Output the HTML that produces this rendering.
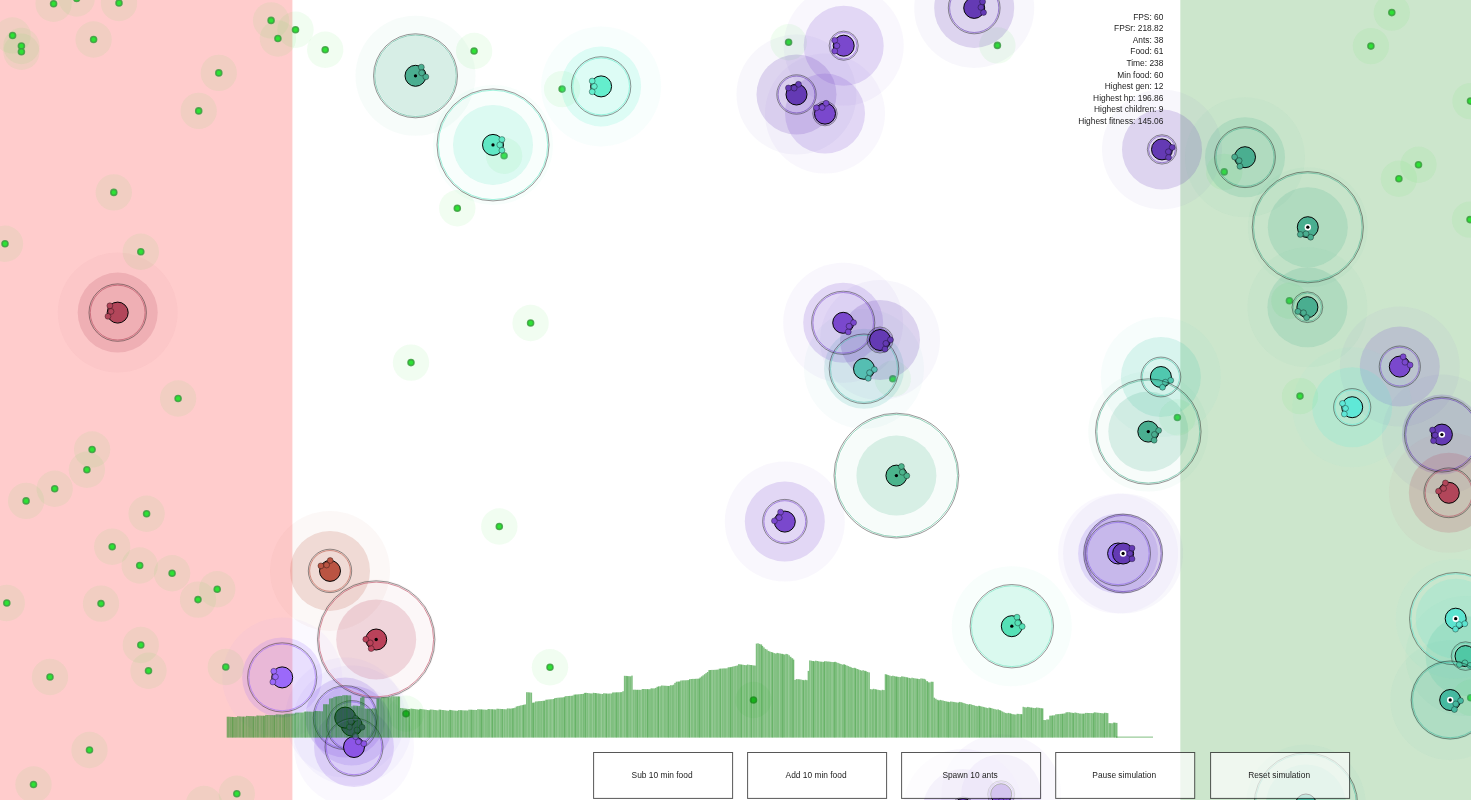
<!DOCTYPE html>
<html><head><meta charset="utf-8"><title>Ants</title>
<style>
html,body{margin:0;padding:0;background:#fff;overflow:hidden}
body{width:1471px;height:800px;position:relative;font-family:"Liberation Sans",sans-serif}
.t{font-family:"Liberation Sans",sans-serif;font-size:8.4px;fill:#1c1c1c}
.b{font-size:8.38px}
</style></head><body>
<svg width="1471" height="800" viewBox="0 0 1471 800" style="position:absolute;left:0;top:0;will-change:transform">
<rect x="0" y="0" width="292.4" height="800" fill="rgba(255,0,0,0.2)"/>
<rect x="1180.3" y="0" width="291" height="800" fill="rgba(0,128,0,0.2)"/>
<circle cx="53.6" cy="3.8" r="18.2" fill="rgba(50,230,50,0.07)"/>
<circle cx="76.7" cy="-1.5" r="18.2" fill="rgba(50,230,50,0.07)"/>
<circle cx="119.0" cy="3.0" r="18.2" fill="rgba(50,230,50,0.07)"/>
<circle cx="12.6" cy="35.5" r="18.2" fill="rgba(50,230,50,0.07)"/>
<circle cx="21.4" cy="46.0" r="18.2" fill="rgba(50,230,50,0.07)"/>
<circle cx="21.4" cy="51.8" r="18.2" fill="rgba(50,230,50,0.07)"/>
<circle cx="93.6" cy="39.5" r="18.2" fill="rgba(50,230,50,0.07)"/>
<circle cx="271.1" cy="20.4" r="18.2" fill="rgba(50,230,50,0.07)"/>
<circle cx="277.9" cy="38.5" r="18.2" fill="rgba(50,230,50,0.07)"/>
<circle cx="295.5" cy="29.7" r="18.2" fill="rgba(50,230,50,0.07)"/>
<circle cx="325.2" cy="49.8" r="18.2" fill="rgba(50,230,50,0.07)"/>
<circle cx="218.8" cy="72.9" r="18.2" fill="rgba(50,230,50,0.07)"/>
<circle cx="198.7" cy="110.9" r="18.2" fill="rgba(50,230,50,0.07)"/>
<circle cx="113.8" cy="192.4" r="18.2" fill="rgba(50,230,50,0.07)"/>
<circle cx="5.0" cy="243.8" r="18.2" fill="rgba(50,230,50,0.07)"/>
<circle cx="140.8" cy="251.8" r="18.2" fill="rgba(50,230,50,0.07)"/>
<circle cx="178.1" cy="398.5" r="18.2" fill="rgba(50,230,50,0.07)"/>
<circle cx="92.1" cy="449.5" r="18.2" fill="rgba(50,230,50,0.07)"/>
<circle cx="86.9" cy="469.8" r="18.2" fill="rgba(50,230,50,0.07)"/>
<circle cx="54.7" cy="488.8" r="18.2" fill="rgba(50,230,50,0.07)"/>
<circle cx="26.1" cy="500.9" r="18.2" fill="rgba(50,230,50,0.07)"/>
<circle cx="146.6" cy="513.8" r="18.2" fill="rgba(50,230,50,0.07)"/>
<circle cx="112.2" cy="546.8" r="18.2" fill="rgba(50,230,50,0.07)"/>
<circle cx="139.7" cy="565.5" r="18.2" fill="rgba(50,230,50,0.07)"/>
<circle cx="172.1" cy="573.2" r="18.2" fill="rgba(50,230,50,0.07)"/>
<circle cx="217.2" cy="589.2" r="18.2" fill="rgba(50,230,50,0.07)"/>
<circle cx="198.0" cy="599.6" r="18.2" fill="rgba(50,230,50,0.07)"/>
<circle cx="6.8" cy="603.0" r="18.2" fill="rgba(50,230,50,0.07)"/>
<circle cx="101.0" cy="603.6" r="18.2" fill="rgba(50,230,50,0.07)"/>
<circle cx="140.8" cy="645.0" r="18.2" fill="rgba(50,230,50,0.07)"/>
<circle cx="148.5" cy="670.8" r="18.2" fill="rgba(50,230,50,0.07)"/>
<circle cx="50.0" cy="677.0" r="18.2" fill="rgba(50,230,50,0.07)"/>
<circle cx="225.8" cy="667.0" r="18.2" fill="rgba(50,230,50,0.07)"/>
<circle cx="89.5" cy="750.0" r="18.2" fill="rgba(50,230,50,0.07)"/>
<circle cx="33.5" cy="784.5" r="18.2" fill="rgba(50,230,50,0.07)"/>
<circle cx="236.8" cy="793.8" r="18.2" fill="rgba(50,230,50,0.07)"/>
<circle cx="204.0" cy="804.0" r="18.2" fill="rgba(50,230,50,0.07)"/>
<circle cx="474.1" cy="51.0" r="18.2" fill="rgba(50,230,50,0.07)"/>
<circle cx="562.1" cy="89.1" r="18.2" fill="rgba(50,230,50,0.07)"/>
<circle cx="504.1" cy="155.7" r="18.2" fill="rgba(50,230,50,0.07)"/>
<circle cx="457.3" cy="208.2" r="18.2" fill="rgba(50,230,50,0.07)"/>
<circle cx="530.6" cy="323.0" r="18.2" fill="rgba(50,230,50,0.07)"/>
<circle cx="411.0" cy="362.6" r="18.2" fill="rgba(50,230,50,0.07)"/>
<circle cx="499.3" cy="526.5" r="18.2" fill="rgba(50,230,50,0.07)"/>
<circle cx="550.0" cy="667.3" r="18.2" fill="rgba(50,230,50,0.07)"/>
<circle cx="406.0" cy="713.7" r="18.2" fill="rgba(50,230,50,0.07)"/>
<circle cx="753.5" cy="700.0" r="18.2" fill="rgba(50,230,50,0.07)"/>
<circle cx="788.6" cy="42.3" r="18.2" fill="rgba(50,230,50,0.07)"/>
<circle cx="997.4" cy="45.4" r="18.2" fill="rgba(50,230,50,0.07)"/>
<circle cx="892.8" cy="378.8" r="18.2" fill="rgba(50,230,50,0.07)"/>
<circle cx="1391.8" cy="12.6" r="18.2" fill="rgba(50,230,50,0.07)"/>
<circle cx="1370.9" cy="46.1" r="18.2" fill="rgba(50,230,50,0.07)"/>
<circle cx="1470.5" cy="101.1" r="18.2" fill="rgba(50,230,50,0.07)"/>
<circle cx="1418.5" cy="164.8" r="18.2" fill="rgba(50,230,50,0.07)"/>
<circle cx="1398.9" cy="178.8" r="18.2" fill="rgba(50,230,50,0.07)"/>
<circle cx="1224.2" cy="171.9" r="18.2" fill="rgba(50,230,50,0.07)"/>
<circle cx="1470.0" cy="219.6" r="18.2" fill="rgba(50,230,50,0.07)"/>
<circle cx="1289.4" cy="300.8" r="18.2" fill="rgba(50,230,50,0.07)"/>
<circle cx="1300.0" cy="396.1" r="18.2" fill="rgba(50,230,50,0.07)"/>
<circle cx="1177.4" cy="417.5" r="18.2" fill="rgba(50,230,50,0.07)"/>
<circle cx="1470.7" cy="697.7" r="18.2" fill="rgba(50,230,50,0.07)"/>
<circle cx="53.6" cy="3.8" r="3.0" fill="rgb(45,226,52)" stroke="rgba(62,158,66,0.85)" stroke-width="1.6"/>
<circle cx="76.7" cy="-1.5" r="3.0" fill="rgb(45,226,52)" stroke="rgba(62,158,66,0.85)" stroke-width="1.6"/>
<circle cx="119.0" cy="3.0" r="3.0" fill="rgb(45,226,52)" stroke="rgba(62,158,66,0.85)" stroke-width="1.6"/>
<circle cx="12.6" cy="35.5" r="3.0" fill="rgb(45,226,52)" stroke="rgba(62,158,66,0.85)" stroke-width="1.6"/>
<circle cx="21.4" cy="46.0" r="3.0" fill="rgb(45,226,52)" stroke="rgba(62,158,66,0.85)" stroke-width="1.6"/>
<circle cx="21.4" cy="51.8" r="3.0" fill="rgb(45,226,52)" stroke="rgba(62,158,66,0.85)" stroke-width="1.6"/>
<circle cx="93.6" cy="39.5" r="3.0" fill="rgb(45,226,52)" stroke="rgba(62,158,66,0.85)" stroke-width="1.6"/>
<circle cx="271.1" cy="20.4" r="3.0" fill="rgb(45,226,52)" stroke="rgba(62,158,66,0.85)" stroke-width="1.6"/>
<circle cx="277.9" cy="38.5" r="3.0" fill="rgb(45,226,52)" stroke="rgba(62,158,66,0.85)" stroke-width="1.6"/>
<circle cx="295.5" cy="29.7" r="3.0" fill="rgb(45,226,52)" stroke="rgba(62,158,66,0.85)" stroke-width="1.6"/>
<circle cx="325.2" cy="49.8" r="3.0" fill="rgb(45,226,52)" stroke="rgba(62,158,66,0.85)" stroke-width="1.6"/>
<circle cx="218.8" cy="72.9" r="3.0" fill="rgb(45,226,52)" stroke="rgba(62,158,66,0.85)" stroke-width="1.6"/>
<circle cx="198.7" cy="110.9" r="3.0" fill="rgb(45,226,52)" stroke="rgba(62,158,66,0.85)" stroke-width="1.6"/>
<circle cx="113.8" cy="192.4" r="3.0" fill="rgb(45,226,52)" stroke="rgba(62,158,66,0.85)" stroke-width="1.6"/>
<circle cx="5.0" cy="243.8" r="3.0" fill="rgb(45,226,52)" stroke="rgba(62,158,66,0.85)" stroke-width="1.6"/>
<circle cx="140.8" cy="251.8" r="3.0" fill="rgb(45,226,52)" stroke="rgba(62,158,66,0.85)" stroke-width="1.6"/>
<circle cx="178.1" cy="398.5" r="3.0" fill="rgb(45,226,52)" stroke="rgba(62,158,66,0.85)" stroke-width="1.6"/>
<circle cx="92.1" cy="449.5" r="3.0" fill="rgb(45,226,52)" stroke="rgba(62,158,66,0.85)" stroke-width="1.6"/>
<circle cx="86.9" cy="469.8" r="3.0" fill="rgb(45,226,52)" stroke="rgba(62,158,66,0.85)" stroke-width="1.6"/>
<circle cx="54.7" cy="488.8" r="3.0" fill="rgb(45,226,52)" stroke="rgba(62,158,66,0.85)" stroke-width="1.6"/>
<circle cx="26.1" cy="500.9" r="3.0" fill="rgb(45,226,52)" stroke="rgba(62,158,66,0.85)" stroke-width="1.6"/>
<circle cx="146.6" cy="513.8" r="3.0" fill="rgb(45,226,52)" stroke="rgba(62,158,66,0.85)" stroke-width="1.6"/>
<circle cx="112.2" cy="546.8" r="3.0" fill="rgb(45,226,52)" stroke="rgba(62,158,66,0.85)" stroke-width="1.6"/>
<circle cx="139.7" cy="565.5" r="3.0" fill="rgb(45,226,52)" stroke="rgba(62,158,66,0.85)" stroke-width="1.6"/>
<circle cx="172.1" cy="573.2" r="3.0" fill="rgb(45,226,52)" stroke="rgba(62,158,66,0.85)" stroke-width="1.6"/>
<circle cx="217.2" cy="589.2" r="3.0" fill="rgb(45,226,52)" stroke="rgba(62,158,66,0.85)" stroke-width="1.6"/>
<circle cx="198.0" cy="599.6" r="3.0" fill="rgb(45,226,52)" stroke="rgba(62,158,66,0.85)" stroke-width="1.6"/>
<circle cx="6.8" cy="603.0" r="3.0" fill="rgb(45,226,52)" stroke="rgba(62,158,66,0.85)" stroke-width="1.6"/>
<circle cx="101.0" cy="603.6" r="3.0" fill="rgb(45,226,52)" stroke="rgba(62,158,66,0.85)" stroke-width="1.6"/>
<circle cx="140.8" cy="645.0" r="3.0" fill="rgb(45,226,52)" stroke="rgba(62,158,66,0.85)" stroke-width="1.6"/>
<circle cx="148.5" cy="670.8" r="3.0" fill="rgb(45,226,52)" stroke="rgba(62,158,66,0.85)" stroke-width="1.6"/>
<circle cx="50.0" cy="677.0" r="3.0" fill="rgb(45,226,52)" stroke="rgba(62,158,66,0.85)" stroke-width="1.6"/>
<circle cx="225.8" cy="667.0" r="3.0" fill="rgb(45,226,52)" stroke="rgba(62,158,66,0.85)" stroke-width="1.6"/>
<circle cx="89.5" cy="750.0" r="3.0" fill="rgb(45,226,52)" stroke="rgba(62,158,66,0.85)" stroke-width="1.6"/>
<circle cx="33.5" cy="784.5" r="3.0" fill="rgb(45,226,52)" stroke="rgba(62,158,66,0.85)" stroke-width="1.6"/>
<circle cx="236.8" cy="793.8" r="3.0" fill="rgb(45,226,52)" stroke="rgba(62,158,66,0.85)" stroke-width="1.6"/>
<circle cx="204.0" cy="804.0" r="3.0" fill="rgb(45,226,52)" stroke="rgba(62,158,66,0.85)" stroke-width="1.6"/>
<circle cx="474.1" cy="51.0" r="3.0" fill="rgb(45,226,52)" stroke="rgba(62,158,66,0.85)" stroke-width="1.6"/>
<circle cx="562.1" cy="89.1" r="3.0" fill="rgb(45,226,52)" stroke="rgba(62,158,66,0.85)" stroke-width="1.6"/>
<circle cx="504.1" cy="155.7" r="3.0" fill="rgb(45,226,52)" stroke="rgba(62,158,66,0.85)" stroke-width="1.6"/>
<circle cx="457.3" cy="208.2" r="3.0" fill="rgb(45,226,52)" stroke="rgba(62,158,66,0.85)" stroke-width="1.6"/>
<circle cx="530.6" cy="323.0" r="3.0" fill="rgb(45,226,52)" stroke="rgba(62,158,66,0.85)" stroke-width="1.6"/>
<circle cx="411.0" cy="362.6" r="3.0" fill="rgb(45,226,52)" stroke="rgba(62,158,66,0.85)" stroke-width="1.6"/>
<circle cx="499.3" cy="526.5" r="3.0" fill="rgb(45,226,52)" stroke="rgba(62,158,66,0.85)" stroke-width="1.6"/>
<circle cx="550.0" cy="667.3" r="3.0" fill="rgb(45,226,52)" stroke="rgba(62,158,66,0.85)" stroke-width="1.6"/>
<circle cx="406.0" cy="713.7" r="3.0" fill="rgb(45,226,52)" stroke="rgba(62,158,66,0.85)" stroke-width="1.6"/>
<circle cx="753.5" cy="700.0" r="3.0" fill="rgb(45,226,52)" stroke="rgba(62,158,66,0.85)" stroke-width="1.6"/>
<circle cx="788.6" cy="42.3" r="3.0" fill="rgb(45,226,52)" stroke="rgba(62,158,66,0.85)" stroke-width="1.6"/>
<circle cx="997.4" cy="45.4" r="3.0" fill="rgb(45,226,52)" stroke="rgba(62,158,66,0.85)" stroke-width="1.6"/>
<circle cx="892.8" cy="378.8" r="3.0" fill="rgb(45,226,52)" stroke="rgba(62,158,66,0.85)" stroke-width="1.6"/>
<circle cx="1391.8" cy="12.6" r="3.0" fill="rgb(45,226,52)" stroke="rgba(62,158,66,0.85)" stroke-width="1.6"/>
<circle cx="1370.9" cy="46.1" r="3.0" fill="rgb(45,226,52)" stroke="rgba(62,158,66,0.85)" stroke-width="1.6"/>
<circle cx="1470.5" cy="101.1" r="3.0" fill="rgb(45,226,52)" stroke="rgba(62,158,66,0.85)" stroke-width="1.6"/>
<circle cx="1418.5" cy="164.8" r="3.0" fill="rgb(45,226,52)" stroke="rgba(62,158,66,0.85)" stroke-width="1.6"/>
<circle cx="1398.9" cy="178.8" r="3.0" fill="rgb(45,226,52)" stroke="rgba(62,158,66,0.85)" stroke-width="1.6"/>
<circle cx="1224.2" cy="171.9" r="3.0" fill="rgb(45,226,52)" stroke="rgba(62,158,66,0.85)" stroke-width="1.6"/>
<circle cx="1470.0" cy="219.6" r="3.0" fill="rgb(45,226,52)" stroke="rgba(62,158,66,0.85)" stroke-width="1.6"/>
<circle cx="1289.4" cy="300.8" r="3.0" fill="rgb(45,226,52)" stroke="rgba(62,158,66,0.85)" stroke-width="1.6"/>
<circle cx="1300.0" cy="396.1" r="3.0" fill="rgb(45,226,52)" stroke="rgba(62,158,66,0.85)" stroke-width="1.6"/>
<circle cx="1177.4" cy="417.5" r="3.0" fill="rgb(45,226,52)" stroke="rgba(62,158,66,0.85)" stroke-width="1.6"/>
<circle cx="1470.7" cy="697.7" r="3.0" fill="rgb(45,226,52)" stroke="rgba(62,158,66,0.85)" stroke-width="1.6"/>
<g>
<circle cx="117.7" cy="312.6" r="60" fill="rgba(178,70,90,0.043)"/>
<circle cx="117.7" cy="312.6" r="40" fill="rgba(178,70,90,0.190)"/>
<circle cx="415.5" cy="75.8" r="60" fill="rgba(74,174,144,0.043)"/>
<circle cx="415.5" cy="75.8" r="40" fill="rgba(74,174,144,0.190)"/>
<circle cx="493.0" cy="144.9" r="60" fill="rgba(96,231,196,0.043)"/>
<circle cx="493.0" cy="144.9" r="40" fill="rgba(96,231,196,0.190)"/>
<circle cx="601.1" cy="86.4" r="60" fill="rgba(100,238,205,0.043)"/>
<circle cx="601.1" cy="86.4" r="40" fill="rgba(100,238,205,0.190)"/>
<circle cx="843.7" cy="45.7" r="60" fill="rgba(122,72,205,0.043)"/>
<circle cx="843.7" cy="45.7" r="40" fill="rgba(122,72,205,0.190)"/>
<circle cx="796.5" cy="94.5" r="60" fill="rgba(100,58,180,0.043)"/>
<circle cx="796.5" cy="94.5" r="40" fill="rgba(100,58,180,0.190)"/>
<circle cx="825.0" cy="113.6" r="60" fill="rgba(122,72,205,0.043)"/>
<circle cx="825.0" cy="113.6" r="40" fill="rgba(122,72,205,0.190)"/>
<circle cx="974.2" cy="7.9" r="60" fill="rgba(100,58,180,0.043)"/>
<circle cx="974.2" cy="7.9" r="40" fill="rgba(100,58,180,0.190)"/>
<circle cx="1162.0" cy="149.4" r="60" fill="rgba(100,58,180,0.043)"/>
<circle cx="1162.0" cy="149.4" r="40" fill="rgba(100,58,180,0.190)"/>
<circle cx="1245.0" cy="157.2" r="60" fill="rgba(74,174,144,0.043)"/>
<circle cx="1245.0" cy="157.2" r="40" fill="rgba(74,174,144,0.190)"/>
<circle cx="1307.8" cy="227.2" r="60" fill="rgba(74,174,144,0.043)"/>
<circle cx="1307.8" cy="227.2" r="40" fill="rgba(74,174,144,0.190)"/>
<circle cx="1307.4" cy="307.2" r="60" fill="rgba(74,174,144,0.043)"/>
<circle cx="1307.4" cy="307.2" r="40" fill="rgba(74,174,144,0.190)"/>
<circle cx="1399.8" cy="366.6" r="60" fill="rgba(122,72,205,0.043)"/>
<circle cx="1399.8" cy="366.6" r="40" fill="rgba(122,72,205,0.190)"/>
<circle cx="1352.2" cy="407.2" r="60" fill="rgba(95,232,215,0.043)"/>
<circle cx="1352.2" cy="407.2" r="40" fill="rgba(95,232,215,0.190)"/>
<circle cx="1160.9" cy="377.0" r="60" fill="rgba(80,200,175,0.043)"/>
<circle cx="1160.9" cy="377.0" r="40" fill="rgba(80,200,175,0.190)"/>
<circle cx="1148.3" cy="431.6" r="60" fill="rgba(74,174,144,0.043)"/>
<circle cx="1148.3" cy="431.6" r="40" fill="rgba(74,174,144,0.190)"/>
<circle cx="1441.9" cy="434.6" r="60" fill="rgba(100,58,180,0.043)"/>
<circle cx="1441.9" cy="434.6" r="40" fill="rgba(100,58,180,0.190)"/>
<circle cx="1448.8" cy="492.8" r="60" fill="rgba(178,70,90,0.043)"/>
<circle cx="1448.8" cy="492.8" r="40" fill="rgba(178,70,90,0.190)"/>
<circle cx="1118.1" cy="553.5" r="60" fill="rgba(135,95,235,0.043)"/>
<circle cx="1118.1" cy="553.5" r="40" fill="rgba(135,95,235,0.190)"/>
<circle cx="1123.1" cy="553.5" r="60" fill="rgba(100,58,180,0.043)"/>
<circle cx="1123.1" cy="553.5" r="40" fill="rgba(100,58,180,0.190)"/>
<circle cx="864.0" cy="368.8" r="60" fill="rgba(85,190,178,0.043)"/>
<circle cx="864.0" cy="368.8" r="40" fill="rgba(85,190,178,0.190)"/>
<circle cx="843.2" cy="322.8" r="60" fill="rgba(122,72,205,0.043)"/>
<circle cx="843.2" cy="322.8" r="40" fill="rgba(122,72,205,0.190)"/>
<circle cx="880.0" cy="340.0" r="60" fill="rgba(100,58,180,0.043)"/>
<circle cx="880.0" cy="340.0" r="40" fill="rgba(100,58,180,0.190)"/>
<circle cx="896.4" cy="475.6" r="60" fill="rgba(75,180,140,0.043)"/>
<circle cx="896.4" cy="475.6" r="40" fill="rgba(75,180,140,0.190)"/>
<circle cx="784.8" cy="521.6" r="60" fill="rgba(122,72,205,0.043)"/>
<circle cx="784.8" cy="521.6" r="40" fill="rgba(122,72,205,0.190)"/>
<circle cx="330.0" cy="570.9" r="60" fill="rgba(186,84,66,0.043)"/>
<circle cx="330.0" cy="570.9" r="40" fill="rgba(186,84,66,0.190)"/>
<circle cx="376.2" cy="639.5" r="60" fill="rgba(186,66,90,0.043)"/>
<circle cx="376.2" cy="639.5" r="40" fill="rgba(186,66,90,0.190)"/>
<circle cx="282.2" cy="677.4" r="60" fill="rgba(155,105,250,0.043)"/>
<circle cx="282.2" cy="677.4" r="40" fill="rgba(155,105,250,0.190)"/>
<circle cx="351.8" cy="725.6" r="60" fill="rgba(125,85,225,0.043)"/>
<circle cx="351.8" cy="725.6" r="40" fill="rgba(125,85,225,0.190)"/>
<circle cx="345.2" cy="717.6" r="60" fill="rgba(125,85,225,0.043)"/>
<circle cx="345.2" cy="717.6" r="40" fill="rgba(125,85,225,0.190)"/>
<circle cx="354.0" cy="747.0" r="60" fill="rgba(140,85,230,0.043)"/>
<circle cx="354.0" cy="747.0" r="40" fill="rgba(140,85,230,0.190)"/>
<circle cx="1011.8" cy="626.2" r="60" fill="rgba(85,225,182,0.043)"/>
<circle cx="1011.8" cy="626.2" r="40" fill="rgba(85,225,182,0.190)"/>
<circle cx="1455.7" cy="618.7" r="60" fill="rgba(92,228,208,0.043)"/>
<circle cx="1455.7" cy="618.7" r="40" fill="rgba(92,228,208,0.190)"/>
<circle cx="1465.5" cy="656.1" r="60" fill="rgba(80,200,165,0.043)"/>
<circle cx="1465.5" cy="656.1" r="40" fill="rgba(80,200,165,0.190)"/>
<circle cx="1450.2" cy="700.0" r="60" fill="rgba(70,185,160,0.043)"/>
<circle cx="1450.2" cy="700.0" r="40" fill="rgba(70,185,160,0.190)"/>
<circle cx="1001.2" cy="794.2" r="60" fill="rgba(122,72,205,0.043)"/>
<circle cx="1001.2" cy="794.2" r="40" fill="rgba(122,72,205,0.190)"/>
<circle cx="963.0" cy="809.0" r="60" fill="rgba(122,72,205,0.043)"/>
<circle cx="963.0" cy="809.0" r="40" fill="rgba(122,72,205,0.190)"/>
<circle cx="1305.9" cy="804.5" r="60" fill="rgba(70,185,160,0.043)"/>
<circle cx="1305.9" cy="804.5" r="40" fill="rgba(70,185,160,0.190)"/>
</g>
<g>
<circle cx="117.7" cy="312.6" r="27.4" fill="none" stroke="rgba(178,70,90,0.650)" stroke-width="0.9"/>
<circle cx="117.7" cy="312.6" r="28.7" fill="none" stroke="rgba(0,0,0,0.45)" stroke-width="0.9"/>
<circle cx="117.7" cy="312.6" r="10.5" fill="rgb(178,70,90)" stroke="#000" stroke-width="0.98"/>
<circle cx="107.99" cy="316.33" r="2.95" fill="rgb(178,70,90)" stroke="rgba(0,0,0,0.5)" stroke-width="0.7"/>
<circle cx="109.85" cy="305.78" r="2.95" fill="rgb(178,70,90)" stroke="rgba(0,0,0,0.5)" stroke-width="0.7"/>
<circle cx="111.00" cy="311.42" r="2.95" fill="rgb(178,70,90)" stroke="rgba(0,0,0,0.5)" stroke-width="0.7"/>
</g>
<g>
<circle cx="415.5" cy="75.8" r="40.7" fill="none" stroke="rgba(74,174,144,0.650)" stroke-width="0.9"/>
<circle cx="415.5" cy="75.8" r="42.0" fill="none" stroke="rgba(0,0,0,0.45)" stroke-width="0.9"/>
<circle cx="415.5" cy="75.8" r="10.5" fill="rgb(74,174,144)" stroke="#000" stroke-width="0.98"/>
<circle cx="421.32" cy="67.13" r="2.95" fill="rgb(74,174,144)" stroke="rgba(0,0,0,0.5)" stroke-width="0.7"/>
<circle cx="425.84" cy="76.84" r="2.95" fill="rgb(74,174,144)" stroke="rgba(0,0,0,0.5)" stroke-width="0.7"/>
<circle cx="421.66" cy="72.88" r="2.95" fill="rgb(74,174,144)" stroke="rgba(0,0,0,0.5)" stroke-width="0.7"/>
<circle cx="415.5" cy="75.8" r="1.65" fill="#000"/>
</g>
<g>
<circle cx="493.0" cy="144.9" r="54.7" fill="none" stroke="rgba(96,231,196,0.650)" stroke-width="0.9"/>
<circle cx="493.0" cy="144.9" r="56.0" fill="none" stroke="rgba(0,0,0,0.45)" stroke-width="0.9"/>
<circle cx="493.0" cy="144.9" r="10.5" fill="rgb(96,231,196)" stroke="#000" stroke-width="0.98"/>
<circle cx="501.91" cy="139.54" r="2.95" fill="rgb(96,231,196)" stroke="rgba(0,0,0,0.5)" stroke-width="0.7"/>
<circle cx="501.91" cy="150.26" r="2.95" fill="rgb(96,231,196)" stroke="rgba(0,0,0,0.5)" stroke-width="0.7"/>
<circle cx="499.80" cy="144.90" r="2.95" fill="rgb(96,231,196)" stroke="rgba(0,0,0,0.5)" stroke-width="0.7"/>
<circle cx="493.0" cy="144.9" r="1.65" fill="#000"/>
</g>
<g>
<circle cx="601.1" cy="86.4" r="28.4" fill="none" stroke="rgba(100,238,205,0.650)" stroke-width="0.9"/>
<circle cx="601.1" cy="86.4" r="29.7" fill="none" stroke="rgba(0,0,0,0.45)" stroke-width="0.9"/>
<circle cx="601.1" cy="86.4" r="10.5" fill="rgb(100,238,205)" stroke="#000" stroke-width="0.98"/>
<circle cx="592.19" cy="91.76" r="2.95" fill="rgb(100,238,205)" stroke="rgba(0,0,0,0.5)" stroke-width="0.7"/>
<circle cx="592.19" cy="81.04" r="2.95" fill="rgb(100,238,205)" stroke="rgba(0,0,0,0.5)" stroke-width="0.7"/>
<circle cx="594.30" cy="86.40" r="2.95" fill="rgb(100,238,205)" stroke="rgba(0,0,0,0.5)" stroke-width="0.7"/>
</g>
<g>
<circle cx="843.7" cy="45.7" r="13.3" fill="none" stroke="rgba(122,72,205,0.650)" stroke-width="0.9"/>
<circle cx="843.7" cy="45.7" r="14.6" fill="none" stroke="rgba(0,0,0,0.45)" stroke-width="0.9"/>
<circle cx="843.7" cy="45.7" r="10.5" fill="rgb(122,72,205)" stroke="#000" stroke-width="0.98"/>
<circle cx="834.79" cy="51.06" r="2.95" fill="rgb(122,72,205)" stroke="rgba(0,0,0,0.5)" stroke-width="0.7"/>
<circle cx="834.79" cy="40.34" r="2.95" fill="rgb(122,72,205)" stroke="rgba(0,0,0,0.5)" stroke-width="0.7"/>
<circle cx="836.90" cy="45.70" r="2.95" fill="rgb(122,72,205)" stroke="rgba(0,0,0,0.5)" stroke-width="0.7"/>
</g>
<g>
<circle cx="796.5" cy="94.5" r="18.4" fill="none" stroke="rgba(100,58,180,0.650)" stroke-width="0.9"/>
<circle cx="796.5" cy="94.5" r="19.7" fill="none" stroke="rgba(0,0,0,0.45)" stroke-width="0.9"/>
<circle cx="796.5" cy="94.5" r="10.5" fill="rgb(100,58,180)" stroke="#000" stroke-width="0.98"/>
<circle cx="788.42" cy="87.96" r="2.95" fill="rgb(100,58,180)" stroke="rgba(0,0,0,0.5)" stroke-width="0.7"/>
<circle cx="798.48" cy="84.29" r="2.95" fill="rgb(100,58,180)" stroke="rgba(0,0,0,0.5)" stroke-width="0.7"/>
<circle cx="794.17" cy="88.11" r="2.95" fill="rgb(100,58,180)" stroke="rgba(0,0,0,0.5)" stroke-width="0.7"/>
</g>
<g>
<circle cx="825.0" cy="113.6" r="10.9" fill="none" stroke="rgba(122,72,205,0.650)" stroke-width="0.9"/>
<circle cx="825.0" cy="113.6" r="12.2" fill="none" stroke="rgba(0,0,0,0.45)" stroke-width="0.9"/>
<circle cx="825.0" cy="113.6" r="10.5" fill="rgb(122,72,205)" stroke="#000" stroke-width="0.98"/>
<circle cx="816.38" cy="107.78" r="2.95" fill="rgb(122,72,205)" stroke="rgba(0,0,0,0.5)" stroke-width="0.7"/>
<circle cx="826.09" cy="103.26" r="2.95" fill="rgb(122,72,205)" stroke="rgba(0,0,0,0.5)" stroke-width="0.7"/>
<circle cx="822.13" cy="107.44" r="2.95" fill="rgb(122,72,205)" stroke="rgba(0,0,0,0.5)" stroke-width="0.7"/>
</g>
<g>
<circle cx="974.2" cy="7.9" r="24.6" fill="none" stroke="rgba(100,58,180,0.650)" stroke-width="0.9"/>
<circle cx="974.2" cy="7.9" r="25.9" fill="none" stroke="rgba(0,0,0,0.45)" stroke-width="0.9"/>
<circle cx="974.2" cy="7.9" r="10.5" fill="rgb(100,58,180)" stroke="#000" stroke-width="0.98"/>
<circle cx="982.61" cy="1.79" r="2.95" fill="rgb(100,58,180)" stroke="rgba(0,0,0,0.5)" stroke-width="0.7"/>
<circle cx="983.55" cy="12.46" r="2.95" fill="rgb(100,58,180)" stroke="rgba(0,0,0,0.5)" stroke-width="0.7"/>
<circle cx="980.97" cy="7.31" r="2.95" fill="rgb(100,58,180)" stroke="rgba(0,0,0,0.5)" stroke-width="0.7"/>
</g>
<g>
<circle cx="1162.0" cy="149.4" r="13.4" fill="none" stroke="rgba(100,58,180,0.650)" stroke-width="0.9"/>
<circle cx="1162.0" cy="149.4" r="14.7" fill="none" stroke="rgba(0,0,0,0.45)" stroke-width="0.9"/>
<circle cx="1162.0" cy="149.4" r="10.5" fill="rgb(100,58,180)" stroke="#000" stroke-width="0.98"/>
<circle cx="1172.21" cy="147.42" r="2.95" fill="rgb(100,58,180)" stroke="rgba(0,0,0,0.5)" stroke-width="0.7"/>
<circle cx="1168.54" cy="157.48" r="2.95" fill="rgb(100,58,180)" stroke="rgba(0,0,0,0.5)" stroke-width="0.7"/>
<circle cx="1168.39" cy="151.73" r="2.95" fill="rgb(100,58,180)" stroke="rgba(0,0,0,0.5)" stroke-width="0.7"/>
</g>
<g>
<circle cx="1245.0" cy="157.2" r="29.1" fill="none" stroke="rgba(74,174,144,0.650)" stroke-width="0.9"/>
<circle cx="1245.0" cy="157.2" r="30.4" fill="none" stroke="rgba(0,0,0,0.45)" stroke-width="0.9"/>
<circle cx="1245.0" cy="157.2" r="10.5" fill="rgb(74,174,144)" stroke="#000" stroke-width="0.98"/>
<circle cx="1239.96" cy="166.30" r="2.95" fill="rgb(74,174,144)" stroke="rgba(0,0,0,0.5)" stroke-width="0.7"/>
<circle cx="1234.60" cy="157.02" r="2.95" fill="rgb(74,174,144)" stroke="rgba(0,0,0,0.5)" stroke-width="0.7"/>
<circle cx="1239.11" cy="160.60" r="2.95" fill="rgb(74,174,144)" stroke="rgba(0,0,0,0.5)" stroke-width="0.7"/>
</g>
<g>
<circle cx="1307.8" cy="227.2" r="54.3" fill="none" stroke="rgba(74,174,144,0.650)" stroke-width="0.9"/>
<circle cx="1307.8" cy="227.2" r="55.6" fill="none" stroke="rgba(0,0,0,0.45)" stroke-width="0.9"/>
<circle cx="1307.8" cy="227.2" r="10.5" fill="rgb(74,174,144)" stroke="#000" stroke-width="0.98"/>
<circle cx="1310.67" cy="237.20" r="2.95" fill="rgb(74,174,144)" stroke="rgba(0,0,0,0.5)" stroke-width="0.7"/>
<circle cx="1300.32" cy="234.42" r="2.95" fill="rgb(74,174,144)" stroke="rgba(0,0,0,0.5)" stroke-width="0.7"/>
<circle cx="1306.04" cy="233.77" r="2.95" fill="rgb(74,174,144)" stroke="rgba(0,0,0,0.5)" stroke-width="0.7"/>
<circle cx="1307.8" cy="227.2" r="3.2" fill="#fff"/>
<circle cx="1307.8" cy="227.2" r="1.65" fill="#000"/>
</g>
<g>
<circle cx="1307.4" cy="307.2" r="14.1" fill="none" stroke="rgba(74,174,144,0.650)" stroke-width="0.9"/>
<circle cx="1307.4" cy="307.2" r="15.4" fill="none" stroke="rgba(0,0,0,0.45)" stroke-width="0.9"/>
<circle cx="1307.4" cy="307.2" r="10.5" fill="rgb(74,174,144)" stroke="#000" stroke-width="0.98"/>
<circle cx="1306.67" cy="317.57" r="2.95" fill="rgb(74,174,144)" stroke="rgba(0,0,0,0.5)" stroke-width="0.7"/>
<circle cx="1297.90" cy="311.43" r="2.95" fill="rgb(74,174,144)" stroke="rgba(0,0,0,0.5)" stroke-width="0.7"/>
<circle cx="1303.50" cy="312.77" r="2.95" fill="rgb(74,174,144)" stroke="rgba(0,0,0,0.5)" stroke-width="0.7"/>
</g>
<g>
<circle cx="1399.8" cy="366.6" r="19.3" fill="none" stroke="rgba(122,72,205,0.650)" stroke-width="0.9"/>
<circle cx="1399.8" cy="366.6" r="20.6" fill="none" stroke="rgba(0,0,0,0.45)" stroke-width="0.9"/>
<circle cx="1399.8" cy="366.6" r="10.5" fill="rgb(122,72,205)" stroke="#000" stroke-width="0.98"/>
<circle cx="1403.19" cy="356.77" r="2.95" fill="rgb(122,72,205)" stroke="rgba(0,0,0,0.5)" stroke-width="0.7"/>
<circle cx="1410.07" cy="364.97" r="2.95" fill="rgb(122,72,205)" stroke="rgba(0,0,0,0.5)" stroke-width="0.7"/>
<circle cx="1405.01" cy="362.23" r="2.95" fill="rgb(122,72,205)" stroke="rgba(0,0,0,0.5)" stroke-width="0.7"/>
</g>
<g>
<circle cx="1352.2" cy="407.2" r="17.3" fill="none" stroke="rgba(95,232,215,0.650)" stroke-width="0.9"/>
<circle cx="1352.2" cy="407.2" r="18.6" fill="none" stroke="rgba(0,0,0,0.45)" stroke-width="0.9"/>
<circle cx="1352.2" cy="407.2" r="10.5" fill="rgb(95,232,215)" stroke="#000" stroke-width="0.98"/>
<circle cx="1344.35" cy="414.02" r="2.95" fill="rgb(95,232,215)" stroke="rgba(0,0,0,0.5)" stroke-width="0.7"/>
<circle cx="1342.49" cy="403.47" r="2.95" fill="rgb(95,232,215)" stroke="rgba(0,0,0,0.5)" stroke-width="0.7"/>
<circle cx="1345.50" cy="408.38" r="2.95" fill="rgb(95,232,215)" stroke="rgba(0,0,0,0.5)" stroke-width="0.7"/>
</g>
<g>
<circle cx="1160.9" cy="377.0" r="18.6" fill="none" stroke="rgba(80,200,175,0.650)" stroke-width="0.9"/>
<circle cx="1160.9" cy="377.0" r="19.9" fill="none" stroke="rgba(0,0,0,0.45)" stroke-width="0.9"/>
<circle cx="1160.9" cy="377.0" r="10.5" fill="rgb(80,200,175)" stroke="#000" stroke-width="0.98"/>
<circle cx="1170.73" cy="380.39" r="2.95" fill="rgb(80,200,175)" stroke="rgba(0,0,0,0.5)" stroke-width="0.7"/>
<circle cx="1162.53" cy="387.27" r="2.95" fill="rgb(80,200,175)" stroke="rgba(0,0,0,0.5)" stroke-width="0.7"/>
<circle cx="1165.27" cy="382.21" r="2.95" fill="rgb(80,200,175)" stroke="rgba(0,0,0,0.5)" stroke-width="0.7"/>
</g>
<g>
<circle cx="1148.3" cy="431.6" r="51.5" fill="none" stroke="rgba(74,174,144,0.650)" stroke-width="0.9"/>
<circle cx="1148.3" cy="431.6" r="52.8" fill="none" stroke="rgba(0,0,0,0.45)" stroke-width="0.9"/>
<circle cx="1148.3" cy="431.6" r="10.5" fill="rgb(74,174,144)" stroke="#000" stroke-width="0.98"/>
<circle cx="1158.64" cy="430.51" r="2.95" fill="rgb(74,174,144)" stroke="rgba(0,0,0,0.5)" stroke-width="0.7"/>
<circle cx="1154.12" cy="440.22" r="2.95" fill="rgb(74,174,144)" stroke="rgba(0,0,0,0.5)" stroke-width="0.7"/>
<circle cx="1154.46" cy="434.47" r="2.95" fill="rgb(74,174,144)" stroke="rgba(0,0,0,0.5)" stroke-width="0.7"/>
<circle cx="1148.3" cy="431.6" r="1.65" fill="#000"/>
</g>
<g>
<circle cx="1441.9" cy="434.6" r="36.2" fill="none" stroke="rgba(100,58,180,0.650)" stroke-width="0.9"/>
<circle cx="1441.9" cy="434.6" r="37.5" fill="none" stroke="rgba(0,0,0,0.45)" stroke-width="0.9"/>
<circle cx="1441.9" cy="434.6" r="10.5" fill="rgb(100,58,180)" stroke="#000" stroke-width="0.98"/>
<circle cx="1433.49" cy="440.71" r="2.95" fill="rgb(100,58,180)" stroke="rgba(0,0,0,0.5)" stroke-width="0.7"/>
<circle cx="1432.55" cy="430.04" r="2.95" fill="rgb(100,58,180)" stroke="rgba(0,0,0,0.5)" stroke-width="0.7"/>
<circle cx="1435.13" cy="435.19" r="2.95" fill="rgb(100,58,180)" stroke="rgba(0,0,0,0.5)" stroke-width="0.7"/>
<circle cx="1441.9" cy="434.6" r="3.2" fill="#fff"/>
<circle cx="1441.9" cy="434.6" r="1.65" fill="#000"/>
</g>
<g>
<circle cx="1448.8" cy="492.8" r="23.6" fill="none" stroke="rgba(178,70,90,0.650)" stroke-width="0.9"/>
<circle cx="1448.8" cy="492.8" r="24.9" fill="none" stroke="rgba(0,0,0,0.45)" stroke-width="0.9"/>
<circle cx="1448.8" cy="492.8" r="10.5" fill="rgb(178,70,90)" stroke="#000" stroke-width="0.98"/>
<circle cx="1438.53" cy="491.17" r="2.95" fill="rgb(178,70,90)" stroke="rgba(0,0,0,0.5)" stroke-width="0.7"/>
<circle cx="1445.41" cy="482.97" r="2.95" fill="rgb(178,70,90)" stroke="rgba(0,0,0,0.5)" stroke-width="0.7"/>
<circle cx="1443.59" cy="488.43" r="2.95" fill="rgb(178,70,90)" stroke="rgba(0,0,0,0.5)" stroke-width="0.7"/>
</g>
<g>
<circle cx="1118.1" cy="553.5" r="31.1" fill="none" stroke="rgba(135,95,235,0.650)" stroke-width="0.9"/>
<circle cx="1118.1" cy="553.5" r="32.4" fill="none" stroke="rgba(0,0,0,0.45)" stroke-width="0.9"/>
<circle cx="1118.1" cy="553.5" r="10.5" fill="rgb(135,95,235)" stroke="#000" stroke-width="0.98"/>
<circle cx="1127.01" cy="548.14" r="2.95" fill="rgb(135,95,235)" stroke="rgba(0,0,0,0.5)" stroke-width="0.7"/>
<circle cx="1127.01" cy="558.86" r="2.95" fill="rgb(135,95,235)" stroke="rgba(0,0,0,0.5)" stroke-width="0.7"/>
<circle cx="1124.90" cy="553.50" r="2.95" fill="rgb(135,95,235)" stroke="rgba(0,0,0,0.5)" stroke-width="0.7"/>
</g>
<g>
<circle cx="1123.1" cy="553.5" r="38.1" fill="none" stroke="rgba(100,58,180,0.650)" stroke-width="0.9"/>
<circle cx="1123.1" cy="553.5" r="39.4" fill="none" stroke="rgba(0,0,0,0.45)" stroke-width="0.9"/>
<circle cx="1123.1" cy="553.5" r="10.5" fill="rgb(100,58,180)" stroke="#000" stroke-width="0.98"/>
<circle cx="1132.01" cy="548.14" r="2.95" fill="rgb(100,58,180)" stroke="rgba(0,0,0,0.5)" stroke-width="0.7"/>
<circle cx="1132.01" cy="558.86" r="2.95" fill="rgb(100,58,180)" stroke="rgba(0,0,0,0.5)" stroke-width="0.7"/>
<circle cx="1129.90" cy="553.50" r="2.95" fill="rgb(100,58,180)" stroke="rgba(0,0,0,0.5)" stroke-width="0.7"/>
<circle cx="1123.1" cy="553.5" r="3.2" fill="#fff"/>
<circle cx="1123.1" cy="553.5" r="1.65" fill="#000"/>
</g>
<g>
<circle cx="864.0" cy="368.8" r="33.5" fill="none" stroke="rgba(85,190,178,0.650)" stroke-width="0.9"/>
<circle cx="864.0" cy="368.8" r="34.8" fill="none" stroke="rgba(0,0,0,0.45)" stroke-width="0.9"/>
<circle cx="864.0" cy="368.8" r="10.5" fill="rgb(85,190,178)" stroke="#000" stroke-width="0.98"/>
<circle cx="874.37" cy="369.53" r="2.95" fill="rgb(85,190,178)" stroke="rgba(0,0,0,0.5)" stroke-width="0.7"/>
<circle cx="868.23" cy="378.30" r="2.95" fill="rgb(85,190,178)" stroke="rgba(0,0,0,0.5)" stroke-width="0.7"/>
<circle cx="869.57" cy="372.70" r="2.95" fill="rgb(85,190,178)" stroke="rgba(0,0,0,0.5)" stroke-width="0.7"/>
</g>
<g>
<circle cx="843.2" cy="322.8" r="30.3" fill="none" stroke="rgba(122,72,205,0.650)" stroke-width="0.9"/>
<circle cx="843.2" cy="322.8" r="31.6" fill="none" stroke="rgba(0,0,0,0.45)" stroke-width="0.9"/>
<circle cx="843.2" cy="322.8" r="10.5" fill="rgb(122,72,205)" stroke="#000" stroke-width="0.98"/>
<circle cx="853.60" cy="322.62" r="2.95" fill="rgb(122,72,205)" stroke="rgba(0,0,0,0.5)" stroke-width="0.7"/>
<circle cx="848.24" cy="331.90" r="2.95" fill="rgb(122,72,205)" stroke="rgba(0,0,0,0.5)" stroke-width="0.7"/>
<circle cx="849.09" cy="326.20" r="2.95" fill="rgb(122,72,205)" stroke="rgba(0,0,0,0.5)" stroke-width="0.7"/>
</g>
<g>
<circle cx="880.0" cy="340.0" r="11.7" fill="none" stroke="rgba(100,58,180,0.650)" stroke-width="0.9"/>
<circle cx="880.0" cy="340.0" r="13.0" fill="none" stroke="rgba(0,0,0,0.45)" stroke-width="0.9"/>
<circle cx="880.0" cy="340.0" r="10.5" fill="rgb(100,58,180)" stroke="#000" stroke-width="0.98"/>
<circle cx="890.40" cy="339.82" r="2.95" fill="rgb(100,58,180)" stroke="rgba(0,0,0,0.5)" stroke-width="0.7"/>
<circle cx="885.04" cy="349.10" r="2.95" fill="rgb(100,58,180)" stroke="rgba(0,0,0,0.5)" stroke-width="0.7"/>
<circle cx="885.89" cy="343.40" r="2.95" fill="rgb(100,58,180)" stroke="rgba(0,0,0,0.5)" stroke-width="0.7"/>
</g>
<g>
<circle cx="896.4" cy="475.6" r="61.1" fill="none" stroke="rgba(75,180,140,0.650)" stroke-width="0.9"/>
<circle cx="896.4" cy="475.6" r="62.4" fill="none" stroke="rgba(0,0,0,0.45)" stroke-width="0.9"/>
<circle cx="896.4" cy="475.6" r="10.5" fill="rgb(75,180,140)" stroke="#000" stroke-width="0.98"/>
<circle cx="901.44" cy="466.50" r="2.95" fill="rgb(75,180,140)" stroke="rgba(0,0,0,0.5)" stroke-width="0.7"/>
<circle cx="906.80" cy="475.78" r="2.95" fill="rgb(75,180,140)" stroke="rgba(0,0,0,0.5)" stroke-width="0.7"/>
<circle cx="902.29" cy="472.20" r="2.95" fill="rgb(75,180,140)" stroke="rgba(0,0,0,0.5)" stroke-width="0.7"/>
<circle cx="896.4" cy="475.6" r="1.65" fill="#000"/>
</g>
<g>
<circle cx="784.8" cy="521.6" r="20.9" fill="none" stroke="rgba(122,72,205,0.650)" stroke-width="0.9"/>
<circle cx="784.8" cy="521.6" r="22.2" fill="none" stroke="rgba(0,0,0,0.45)" stroke-width="0.9"/>
<circle cx="784.8" cy="521.6" r="10.5" fill="rgb(122,72,205)" stroke="#000" stroke-width="0.98"/>
<circle cx="774.43" cy="520.87" r="2.95" fill="rgb(122,72,205)" stroke="rgba(0,0,0,0.5)" stroke-width="0.7"/>
<circle cx="780.57" cy="512.10" r="2.95" fill="rgb(122,72,205)" stroke="rgba(0,0,0,0.5)" stroke-width="0.7"/>
<circle cx="779.23" cy="517.70" r="2.95" fill="rgb(122,72,205)" stroke="rgba(0,0,0,0.5)" stroke-width="0.7"/>
</g>
<g>
<circle cx="330.0" cy="570.9" r="20.4" fill="none" stroke="rgba(186,84,66,0.650)" stroke-width="0.9"/>
<circle cx="330.0" cy="570.9" r="21.7" fill="none" stroke="rgba(0,0,0,0.45)" stroke-width="0.9"/>
<circle cx="330.0" cy="570.9" r="10.5" fill="rgb(186,84,66)" stroke="#000" stroke-width="0.98"/>
<circle cx="320.90" cy="565.86" r="2.95" fill="rgb(186,84,66)" stroke="rgba(0,0,0,0.5)" stroke-width="0.7"/>
<circle cx="330.18" cy="560.50" r="2.95" fill="rgb(186,84,66)" stroke="rgba(0,0,0,0.5)" stroke-width="0.7"/>
<circle cx="326.60" cy="565.01" r="2.95" fill="rgb(186,84,66)" stroke="rgba(0,0,0,0.5)" stroke-width="0.7"/>
</g>
<g>
<circle cx="376.2" cy="639.5" r="57.4" fill="none" stroke="rgba(186,66,90,0.650)" stroke-width="0.9"/>
<circle cx="376.2" cy="639.5" r="58.7" fill="none" stroke="rgba(0,0,0,0.45)" stroke-width="0.9"/>
<circle cx="376.2" cy="639.5" r="10.5" fill="rgb(186,66,90)" stroke="#000" stroke-width="0.98"/>
<circle cx="371.16" cy="648.60" r="2.95" fill="rgb(186,66,90)" stroke="rgba(0,0,0,0.5)" stroke-width="0.7"/>
<circle cx="365.80" cy="639.32" r="2.95" fill="rgb(186,66,90)" stroke="rgba(0,0,0,0.5)" stroke-width="0.7"/>
<circle cx="370.31" cy="642.90" r="2.95" fill="rgb(186,66,90)" stroke="rgba(0,0,0,0.5)" stroke-width="0.7"/>
<circle cx="376.2" cy="639.5" r="1.65" fill="#000"/>
</g>
<g>
<circle cx="282.2" cy="677.4" r="33.3" fill="none" stroke="rgba(155,105,250,0.650)" stroke-width="0.9"/>
<circle cx="282.2" cy="677.4" r="34.6" fill="none" stroke="rgba(0,0,0,0.45)" stroke-width="0.9"/>
<circle cx="282.2" cy="677.4" r="10.5" fill="rgb(155,105,250)" stroke="#000" stroke-width="0.98"/>
<circle cx="272.85" cy="681.96" r="2.95" fill="rgb(155,105,250)" stroke="rgba(0,0,0,0.5)" stroke-width="0.7"/>
<circle cx="273.79" cy="671.29" r="2.95" fill="rgb(155,105,250)" stroke="rgba(0,0,0,0.5)" stroke-width="0.7"/>
<circle cx="275.43" cy="676.81" r="2.95" fill="rgb(155,105,250)" stroke="rgba(0,0,0,0.5)" stroke-width="0.7"/>
</g>
<g>
<circle cx="351.8" cy="725.6" r="23.7" fill="none" stroke="rgba(125,85,225,0.650)" stroke-width="0.9"/>
<circle cx="351.8" cy="725.6" r="25.0" fill="none" stroke="rgba(0,0,0,0.45)" stroke-width="0.9"/>
<circle cx="351.8" cy="725.6" r="10.5" fill="rgb(92,68,155)" stroke="#000" stroke-width="0.98"/>
<circle cx="362.07" cy="727.23" r="2.95" fill="rgb(92,68,155)" stroke="rgba(0,0,0,0.5)" stroke-width="0.7"/>
<circle cx="355.19" cy="735.43" r="2.95" fill="rgb(92,68,155)" stroke="rgba(0,0,0,0.5)" stroke-width="0.7"/>
<circle cx="357.01" cy="729.97" r="2.95" fill="rgb(92,68,155)" stroke="rgba(0,0,0,0.5)" stroke-width="0.7"/>
</g>
<g>
<circle cx="345.2" cy="717.6" r="30.7" fill="none" stroke="rgba(125,85,225,0.650)" stroke-width="0.9"/>
<circle cx="345.2" cy="717.6" r="32.0" fill="none" stroke="rgba(0,0,0,0.45)" stroke-width="0.9"/>
<circle cx="345.2" cy="717.6" r="10.5" fill="rgb(92,68,155)" stroke="#000" stroke-width="0.98"/>
<circle cx="355.57" cy="718.33" r="2.95" fill="rgb(92,68,155)" stroke="rgba(0,0,0,0.5)" stroke-width="0.7"/>
<circle cx="349.43" cy="727.10" r="2.95" fill="rgb(92,68,155)" stroke="rgba(0,0,0,0.5)" stroke-width="0.7"/>
<circle cx="350.77" cy="721.50" r="2.95" fill="rgb(92,68,155)" stroke="rgba(0,0,0,0.5)" stroke-width="0.7"/>
</g>
<g>
<circle cx="354.0" cy="747.0" r="27.7" fill="none" stroke="rgba(140,85,230,0.650)" stroke-width="0.9"/>
<circle cx="354.0" cy="747.0" r="29.0" fill="none" stroke="rgba(0,0,0,0.45)" stroke-width="0.9"/>
<circle cx="354.0" cy="747.0" r="10.5" fill="rgb(140,85,230)" stroke="#000" stroke-width="0.98"/>
<circle cx="355.63" cy="736.73" r="2.95" fill="rgb(140,85,230)" stroke="rgba(0,0,0,0.5)" stroke-width="0.7"/>
<circle cx="363.83" cy="743.61" r="2.95" fill="rgb(140,85,230)" stroke="rgba(0,0,0,0.5)" stroke-width="0.7"/>
<circle cx="358.37" cy="741.79" r="2.95" fill="rgb(140,85,230)" stroke="rgba(0,0,0,0.5)" stroke-width="0.7"/>
</g>
<g>
<circle cx="1011.8" cy="626.2" r="40.4" fill="none" stroke="rgba(85,225,182,0.650)" stroke-width="0.9"/>
<circle cx="1011.8" cy="626.2" r="41.7" fill="none" stroke="rgba(0,0,0,0.45)" stroke-width="0.9"/>
<circle cx="1011.8" cy="626.2" r="10.5" fill="rgb(85,225,182)" stroke="#000" stroke-width="0.98"/>
<circle cx="1017.00" cy="617.19" r="2.95" fill="rgb(85,225,182)" stroke="rgba(0,0,0,0.5)" stroke-width="0.7"/>
<circle cx="1022.19" cy="626.56" r="2.95" fill="rgb(85,225,182)" stroke="rgba(0,0,0,0.5)" stroke-width="0.7"/>
<circle cx="1017.75" cy="622.90" r="2.95" fill="rgb(85,225,182)" stroke="rgba(0,0,0,0.5)" stroke-width="0.7"/>
<circle cx="1011.8" cy="626.2" r="1.65" fill="#000"/>
</g>
<g>
<circle cx="1455.7" cy="618.7" r="44.9" fill="none" stroke="rgba(92,228,208,0.650)" stroke-width="0.9"/>
<circle cx="1455.7" cy="618.7" r="46.2" fill="none" stroke="rgba(0,0,0,0.45)" stroke-width="0.9"/>
<circle cx="1455.7" cy="618.7" r="10.5" fill="rgb(92,228,208)" stroke="#000" stroke-width="0.98"/>
<circle cx="1464.80" cy="623.74" r="2.95" fill="rgb(92,228,208)" stroke="rgba(0,0,0,0.5)" stroke-width="0.7"/>
<circle cx="1455.52" cy="629.10" r="2.95" fill="rgb(92,228,208)" stroke="rgba(0,0,0,0.5)" stroke-width="0.7"/>
<circle cx="1459.10" cy="624.59" r="2.95" fill="rgb(92,228,208)" stroke="rgba(0,0,0,0.5)" stroke-width="0.7"/>
<circle cx="1455.7" cy="618.7" r="3.2" fill="#fff"/>
<circle cx="1455.7" cy="618.7" r="1.65" fill="#000"/>
</g>
<g>
<circle cx="1465.5" cy="656.1" r="13.0" fill="none" stroke="rgba(80,200,165,0.650)" stroke-width="0.9"/>
<circle cx="1465.5" cy="656.1" r="14.3" fill="none" stroke="rgba(0,0,0,0.45)" stroke-width="0.9"/>
<circle cx="1465.5" cy="656.1" r="10.5" fill="rgb(80,200,165)" stroke="#000" stroke-width="0.98"/>
<circle cx="1470.06" cy="665.45" r="2.95" fill="rgb(80,200,165)" stroke="rgba(0,0,0,0.5)" stroke-width="0.7"/>
<circle cx="1459.39" cy="664.51" r="2.95" fill="rgb(80,200,165)" stroke="rgba(0,0,0,0.5)" stroke-width="0.7"/>
<circle cx="1464.91" cy="662.87" r="2.95" fill="rgb(80,200,165)" stroke="rgba(0,0,0,0.5)" stroke-width="0.7"/>
</g>
<g>
<circle cx="1450.2" cy="700.0" r="37.7" fill="none" stroke="rgba(70,185,160,0.650)" stroke-width="0.9"/>
<circle cx="1450.2" cy="700.0" r="39.0" fill="none" stroke="rgba(0,0,0,0.45)" stroke-width="0.9"/>
<circle cx="1450.2" cy="700.0" r="10.5" fill="rgb(70,185,160)" stroke="#000" stroke-width="0.98"/>
<circle cx="1460.57" cy="700.73" r="2.95" fill="rgb(70,185,160)" stroke="rgba(0,0,0,0.5)" stroke-width="0.7"/>
<circle cx="1454.43" cy="709.50" r="2.95" fill="rgb(70,185,160)" stroke="rgba(0,0,0,0.5)" stroke-width="0.7"/>
<circle cx="1455.77" cy="703.90" r="2.95" fill="rgb(70,185,160)" stroke="rgba(0,0,0,0.5)" stroke-width="0.7"/>
<circle cx="1450.2" cy="700.0" r="3.2" fill="#fff"/>
<circle cx="1450.2" cy="700.0" r="1.65" fill="#000"/>
</g>
<g>
<circle cx="1001.2" cy="794.2" r="12.2" fill="none" stroke="rgba(122,72,205,0.650)" stroke-width="0.9"/>
<circle cx="1001.2" cy="794.2" r="13.5" fill="none" stroke="rgba(0,0,0,0.45)" stroke-width="0.9"/>
<circle cx="1001.2" cy="794.2" r="10.5" fill="rgb(122,72,205)" stroke="#000" stroke-width="0.98"/>
<circle cx="1006.56" cy="803.11" r="2.95" fill="rgb(122,72,205)" stroke="rgba(0,0,0,0.5)" stroke-width="0.7"/>
<circle cx="995.84" cy="803.11" r="2.95" fill="rgb(122,72,205)" stroke="rgba(0,0,0,0.5)" stroke-width="0.7"/>
<circle cx="1001.20" cy="801.00" r="2.95" fill="rgb(122,72,205)" stroke="rgba(0,0,0,0.5)" stroke-width="0.7"/>
</g>
<g>
<circle cx="963.0" cy="809.0" r="10.7" fill="none" stroke="rgba(122,72,205,0.650)" stroke-width="0.9"/>
<circle cx="963.0" cy="809.0" r="12.0" fill="none" stroke="rgba(0,0,0,0.45)" stroke-width="0.9"/>
<circle cx="963.0" cy="809.0" r="10.5" fill="rgb(122,72,205)" stroke="#000" stroke-width="0.98"/>
<circle cx="968.36" cy="817.91" r="2.95" fill="rgb(122,72,205)" stroke="rgba(0,0,0,0.5)" stroke-width="0.7"/>
<circle cx="957.64" cy="817.91" r="2.95" fill="rgb(122,72,205)" stroke="rgba(0,0,0,0.5)" stroke-width="0.7"/>
<circle cx="963.00" cy="815.80" r="2.95" fill="rgb(122,72,205)" stroke="rgba(0,0,0,0.5)" stroke-width="0.7"/>
</g>
<g>
<circle cx="1305.9" cy="804.5" r="50.5" fill="none" stroke="rgba(70,185,160,0.650)" stroke-width="0.9"/>
<circle cx="1305.9" cy="804.5" r="51.8" fill="none" stroke="rgba(0,0,0,0.45)" stroke-width="0.9"/>
<circle cx="1305.9" cy="804.5" r="10.5" fill="rgb(70,185,160)" stroke="#000" stroke-width="0.98"/>
<circle cx="1311.26" cy="813.41" r="2.95" fill="rgb(70,185,160)" stroke="rgba(0,0,0,0.5)" stroke-width="0.7"/>
<circle cx="1300.54" cy="813.41" r="2.95" fill="rgb(70,185,160)" stroke="rgba(0,0,0,0.5)" stroke-width="0.7"/>
<circle cx="1305.90" cy="811.30" r="2.95" fill="rgb(70,185,160)" stroke="rgba(0,0,0,0.5)" stroke-width="0.7"/>
</g>
<g fill="rgba(0,128,0,0.5)"><rect x="226.70" y="716.7" width="1.60" height="20.9"/><rect x="228.18" y="716.7" width="1.48" height="20.9"/><rect x="229.66" y="716.8" width="1.48" height="20.8"/><rect x="231.15" y="716.9" width="1.88" height="20.7"/><rect x="232.63" y="717.0" width="1.48" height="20.6"/><rect x="234.11" y="717.1" width="1.60" height="20.5"/><rect x="235.59" y="717.1" width="1.40" height="20.5"/><rect x="237.07" y="716.3" width="1.48" height="21.3"/><rect x="238.56" y="716.4" width="1.48" height="21.2"/><rect x="240.04" y="716.5" width="1.40" height="21.1"/><rect x="241.52" y="716.6" width="1.88" height="21.0"/><rect x="243.00" y="716.6" width="1.48" height="21.0"/><rect x="244.48" y="716.7" width="1.40" height="20.9"/><rect x="245.97" y="715.9" width="1.48" height="21.7"/><rect x="247.45" y="716.0" width="1.48" height="21.6"/><rect x="248.93" y="716.1" width="1.60" height="21.5"/><rect x="250.41" y="716.1" width="1.48" height="21.5"/><rect x="251.89" y="716.2" width="1.88" height="21.4"/><rect x="253.38" y="716.3" width="1.40" height="21.3"/><rect x="254.86" y="716.4" width="1.48" height="21.2"/><rect x="256.34" y="715.5" width="1.60" height="22.1"/><rect x="257.82" y="715.6" width="1.40" height="22.0"/><rect x="259.30" y="715.6" width="1.48" height="22.0"/><rect x="260.79" y="715.7" width="1.48" height="21.9"/><rect x="262.27" y="715.7" width="1.88" height="21.9"/><rect x="263.75" y="715.8" width="1.60" height="21.8"/><rect x="265.23" y="714.9" width="1.48" height="22.7"/><rect x="266.71" y="715.0" width="1.40" height="22.6"/><rect x="268.20" y="715.0" width="1.48" height="22.6"/><rect x="269.68" y="715.1" width="1.48" height="22.5"/><rect x="271.16" y="715.1" width="1.60" height="22.5"/><rect x="272.64" y="715.2" width="1.88" height="22.4"/><rect x="274.12" y="715.2" width="1.48" height="22.4"/><rect x="275.61" y="714.4" width="1.40" height="23.2"/><rect x="277.09" y="714.4" width="1.48" height="23.2"/><rect x="278.57" y="714.5" width="1.60" height="23.1"/><rect x="280.05" y="714.5" width="1.40" height="23.1"/><rect x="281.53" y="714.6" width="1.48" height="23.0"/><rect x="283.02" y="714.6" width="1.88" height="23.0"/><rect x="284.50" y="713.8" width="1.40" height="23.8"/><rect x="285.98" y="713.7" width="1.60" height="23.9"/><rect x="287.46" y="713.7" width="1.48" height="23.9"/><rect x="288.94" y="713.7" width="1.40" height="23.9"/><rect x="290.43" y="713.6" width="1.48" height="24.0"/><rect x="291.91" y="713.6" width="1.48" height="24.0"/><rect x="293.39" y="713.6" width="1.88" height="24.0"/><rect x="294.87" y="712.7" width="1.48" height="24.9"/><rect x="296.35" y="712.6" width="1.48" height="25.0"/><rect x="297.84" y="712.6" width="1.40" height="25.0"/><rect x="299.32" y="712.6" width="1.48" height="25.0"/><rect x="300.80" y="712.5" width="1.60" height="25.1"/><rect x="302.28" y="712.5" width="1.40" height="25.1"/><rect x="303.76" y="711.6" width="1.88" height="26.0"/><rect x="305.25" y="711.6" width="1.48" height="26.0"/><rect x="306.73" y="711.5" width="1.40" height="26.1"/><rect x="308.21" y="711.6" width="1.60" height="26.0"/><rect x="309.69" y="711.6" width="1.48" height="26.0"/><rect x="311.17" y="711.7" width="1.40" height="25.9"/><rect x="312.66" y="711.8" width="1.48" height="25.8"/><rect x="314.14" y="710.9" width="1.88" height="26.7"/><rect x="315.62" y="711.0" width="1.60" height="26.6"/><rect x="317.10" y="711.1" width="1.48" height="26.5"/><rect x="318.58" y="711.1" width="1.48" height="26.5"/><rect x="320.07" y="711.2" width="1.40" height="26.4"/><rect x="321.55" y="711.3" width="1.48" height="26.3"/><rect x="323.03" y="704.2" width="1.60" height="33.4"/><rect x="324.51" y="704.2" width="1.88" height="33.4"/><rect x="325.99" y="704.3" width="1.48" height="33.3"/><rect x="327.48" y="704.3" width="1.48" height="33.3"/><rect x="328.96" y="698.6" width="1.40" height="39.0"/><rect x="330.44" y="698.4" width="1.60" height="39.2"/><rect x="331.92" y="698.1" width="1.48" height="39.5"/><rect x="333.40" y="696.9" width="1.40" height="40.7"/><rect x="334.89" y="696.7" width="1.88" height="40.9"/><rect x="336.37" y="696.4" width="1.48" height="41.2"/><rect x="337.85" y="696.1" width="1.60" height="41.5"/><rect x="339.33" y="695.9" width="1.48" height="41.7"/><rect x="340.81" y="696.0" width="1.48" height="41.6"/><rect x="342.30" y="695.1" width="1.40" height="42.5"/><rect x="343.78" y="695.2" width="1.48" height="42.4"/><rect x="345.26" y="695.2" width="1.88" height="42.4"/><rect x="346.74" y="695.3" width="1.40" height="42.3"/><rect x="348.22" y="695.4" width="1.48" height="42.2"/><rect x="349.71" y="695.4" width="1.48" height="42.2"/><rect x="351.19" y="706.2" width="1.40" height="31.4"/><rect x="352.67" y="705.5" width="1.60" height="32.1"/><rect x="354.15" y="705.6" width="1.48" height="32.0"/><rect x="355.63" y="705.7" width="1.88" height="31.9"/><rect x="357.12" y="705.9" width="1.48" height="31.7"/><rect x="358.60" y="706.0" width="1.48" height="31.6"/><rect x="360.08" y="697.7" width="1.60" height="39.9"/><rect x="361.56" y="697.0" width="1.48" height="40.6"/><rect x="363.04" y="697.1" width="1.48" height="40.5"/><rect x="364.53" y="708.5" width="1.40" height="29.1"/><rect x="366.01" y="708.6" width="1.88" height="29.0"/><rect x="367.49" y="708.7" width="1.60" height="28.9"/><rect x="368.97" y="708.9" width="1.40" height="28.7"/><rect x="370.45" y="709.0" width="1.48" height="28.6"/><rect x="371.94" y="708.3" width="1.48" height="29.3"/><rect x="373.42" y="708.4" width="1.40" height="29.2"/><rect x="374.90" y="708.5" width="1.60" height="29.1"/><rect x="376.38" y="698.5" width="1.88" height="39.1"/><rect x="377.86" y="698.5" width="1.40" height="39.1"/><rect x="379.35" y="698.4" width="1.48" height="39.2"/><rect x="380.83" y="697.5" width="1.48" height="40.1"/><rect x="382.31" y="697.4" width="1.60" height="40.2"/><rect x="383.79" y="697.4" width="1.48" height="40.2"/><rect x="385.27" y="697.3" width="1.48" height="40.3"/><rect x="386.76" y="697.3" width="1.88" height="40.3"/><rect x="388.24" y="697.2" width="1.48" height="40.4"/><rect x="389.72" y="697.2" width="1.60" height="40.4"/><rect x="391.20" y="696.3" width="1.40" height="41.3"/><rect x="392.68" y="696.3" width="1.48" height="41.3"/><rect x="394.17" y="696.4" width="1.48" height="41.2"/><rect x="395.65" y="696.4" width="1.40" height="41.2"/><rect x="397.13" y="696.4" width="1.88" height="41.2"/><rect x="398.61" y="696.5" width="1.48" height="41.1"/><rect x="400.09" y="708.0" width="1.40" height="29.6"/><rect x="401.58" y="708.2" width="1.48" height="29.4"/><rect x="403.06" y="708.4" width="1.48" height="29.2"/><rect x="404.54" y="708.6" width="1.60" height="29.0"/><rect x="406.02" y="708.8" width="1.48" height="28.8"/><rect x="407.50" y="709.0" width="1.88" height="28.6"/><rect x="408.99" y="709.2" width="1.40" height="28.4"/><rect x="410.47" y="708.6" width="1.48" height="29.0"/><rect x="411.95" y="708.8" width="1.60" height="28.8"/><rect x="413.43" y="709.0" width="1.40" height="28.6"/><rect x="414.91" y="709.2" width="1.48" height="28.4"/><rect x="416.40" y="709.4" width="1.48" height="28.2"/><rect x="417.88" y="709.6" width="1.88" height="28.0"/><rect x="419.36" y="708.9" width="1.60" height="28.7"/><rect x="420.84" y="709.1" width="1.48" height="28.5"/><rect x="422.32" y="709.3" width="1.40" height="28.3"/><rect x="423.81" y="709.5" width="1.48" height="28.1"/><rect x="425.29" y="709.7" width="1.48" height="27.9"/><rect x="426.77" y="710.0" width="1.60" height="27.6"/><rect x="428.25" y="710.2" width="1.88" height="27.4"/><rect x="429.73" y="709.5" width="1.48" height="28.1"/><rect x="431.22" y="709.6" width="1.40" height="28.0"/><rect x="432.70" y="709.8" width="1.48" height="27.8"/><rect x="434.18" y="710.0" width="1.60" height="27.6"/><rect x="435.66" y="710.2" width="1.40" height="27.4"/><rect x="437.14" y="710.3" width="1.48" height="27.3"/><rect x="438.63" y="709.6" width="1.88" height="28.0"/><rect x="440.11" y="709.8" width="1.40" height="27.8"/><rect x="441.59" y="710.0" width="1.60" height="27.6"/><rect x="443.07" y="710.1" width="1.48" height="27.5"/><rect x="444.55" y="710.3" width="1.40" height="27.3"/><rect x="446.04" y="710.5" width="1.48" height="27.1"/><rect x="447.52" y="710.7" width="1.48" height="26.9"/><rect x="449.00" y="709.9" width="1.88" height="27.7"/><rect x="450.48" y="710.1" width="1.48" height="27.5"/><rect x="451.96" y="710.3" width="1.48" height="27.3"/><rect x="453.45" y="710.5" width="1.40" height="27.1"/><rect x="454.93" y="710.6" width="1.48" height="27.0"/><rect x="456.41" y="710.8" width="1.60" height="26.8"/><rect x="457.89" y="710.1" width="1.40" height="27.5"/><rect x="459.37" y="710.1" width="1.88" height="27.5"/><rect x="460.86" y="710.2" width="1.48" height="27.4"/><rect x="462.34" y="710.3" width="1.40" height="27.3"/><rect x="463.82" y="710.4" width="1.60" height="27.2"/><rect x="465.30" y="710.4" width="1.48" height="27.2"/><rect x="466.78" y="710.5" width="1.40" height="27.1"/><rect x="468.27" y="709.7" width="1.48" height="27.9"/><rect x="469.75" y="709.7" width="1.88" height="27.9"/><rect x="471.23" y="709.8" width="1.60" height="27.8"/><rect x="472.71" y="709.9" width="1.48" height="27.7"/><rect x="474.19" y="709.9" width="1.48" height="27.7"/><rect x="475.68" y="710.0" width="1.40" height="27.6"/><rect x="477.16" y="709.2" width="1.48" height="28.4"/><rect x="478.64" y="709.3" width="1.60" height="28.3"/><rect x="480.12" y="709.4" width="1.88" height="28.2"/><rect x="481.60" y="709.5" width="1.48" height="28.1"/><rect x="483.09" y="709.6" width="1.48" height="28.0"/><rect x="484.57" y="709.7" width="1.40" height="27.9"/><rect x="486.05" y="709.8" width="1.60" height="27.8"/><rect x="487.53" y="709.0" width="1.48" height="28.6"/><rect x="489.01" y="709.1" width="1.40" height="28.5"/><rect x="490.50" y="709.2" width="1.88" height="28.4"/><rect x="491.98" y="709.3" width="1.48" height="28.3"/><rect x="493.46" y="709.4" width="1.60" height="28.2"/><rect x="494.94" y="709.5" width="1.48" height="28.1"/><rect x="496.42" y="708.7" width="1.48" height="28.9"/><rect x="497.91" y="708.8" width="1.40" height="28.8"/><rect x="499.39" y="708.9" width="1.48" height="28.7"/><rect x="500.87" y="709.0" width="1.88" height="28.6"/><rect x="502.35" y="709.1" width="1.40" height="28.5"/><rect x="503.83" y="709.2" width="1.48" height="28.4"/><rect x="505.32" y="709.3" width="1.48" height="28.3"/><rect x="506.80" y="708.4" width="1.40" height="29.2"/><rect x="508.28" y="708.5" width="1.60" height="29.1"/><rect x="509.76" y="708.6" width="1.48" height="29.0"/><rect x="511.24" y="708.4" width="1.88" height="29.2"/><rect x="512.73" y="708.1" width="1.48" height="29.5"/><rect x="514.21" y="707.7" width="1.48" height="29.9"/><rect x="515.69" y="706.5" width="1.60" height="31.1"/><rect x="517.17" y="706.1" width="1.48" height="31.5"/><rect x="518.65" y="705.8" width="1.48" height="31.8"/><rect x="520.14" y="705.4" width="1.40" height="32.2"/><rect x="521.62" y="705.1" width="1.88" height="32.5"/><rect x="523.10" y="704.7" width="1.60" height="32.9"/><rect x="524.58" y="704.4" width="1.40" height="33.2"/><rect x="526.06" y="692.2" width="1.48" height="45.4"/><rect x="527.55" y="692.3" width="1.48" height="45.3"/><rect x="529.03" y="692.4" width="1.40" height="45.2"/><rect x="530.51" y="692.6" width="1.60" height="45.0"/><rect x="531.99" y="702.7" width="1.88" height="34.9"/><rect x="533.47" y="702.5" width="1.40" height="35.1"/><rect x="534.96" y="701.5" width="1.48" height="36.1"/><rect x="536.44" y="701.4" width="1.48" height="36.2"/><rect x="537.92" y="701.2" width="1.60" height="36.4"/><rect x="539.40" y="701.1" width="1.48" height="36.5"/><rect x="540.88" y="701.0" width="1.48" height="36.6"/><rect x="542.37" y="700.8" width="1.88" height="36.8"/><rect x="543.85" y="700.7" width="1.48" height="36.9"/><rect x="545.33" y="699.7" width="1.60" height="37.9"/><rect x="546.81" y="699.6" width="1.40" height="38.0"/><rect x="548.29" y="699.4" width="1.48" height="38.2"/><rect x="549.78" y="699.3" width="1.48" height="38.3"/><rect x="551.26" y="699.2" width="1.40" height="38.4"/><rect x="552.74" y="699.0" width="1.88" height="38.6"/><rect x="554.22" y="698.0" width="1.48" height="39.6"/><rect x="555.70" y="697.9" width="1.40" height="39.7"/><rect x="557.19" y="697.7" width="1.48" height="39.9"/><rect x="558.67" y="697.6" width="1.48" height="40.0"/><rect x="560.15" y="697.5" width="1.60" height="40.1"/><rect x="561.63" y="697.4" width="1.48" height="40.2"/><rect x="563.11" y="697.2" width="1.88" height="40.4"/><rect x="564.60" y="696.2" width="1.40" height="41.4"/><rect x="566.08" y="696.1" width="1.48" height="41.5"/><rect x="567.56" y="696.0" width="1.60" height="41.6"/><rect x="569.04" y="695.9" width="1.40" height="41.7"/><rect x="570.52" y="695.8" width="1.48" height="41.8"/><rect x="572.01" y="695.6" width="1.48" height="42.0"/><rect x="573.49" y="694.6" width="1.88" height="43.0"/><rect x="574.97" y="694.5" width="1.60" height="43.1"/><rect x="576.45" y="694.4" width="1.48" height="43.2"/><rect x="577.93" y="694.3" width="1.40" height="43.3"/><rect x="579.42" y="694.1" width="1.48" height="43.5"/><rect x="580.90" y="694.0" width="1.48" height="43.6"/><rect x="582.38" y="693.9" width="1.60" height="43.7"/><rect x="583.86" y="692.9" width="1.88" height="44.7"/><rect x="585.34" y="692.8" width="1.48" height="44.8"/><rect x="586.83" y="693.0" width="1.40" height="44.6"/><rect x="588.31" y="693.2" width="1.48" height="44.4"/><rect x="589.79" y="693.4" width="1.60" height="44.2"/><rect x="591.27" y="693.5" width="1.40" height="44.1"/><rect x="592.75" y="692.8" width="1.48" height="44.8"/><rect x="594.24" y="693.0" width="1.88" height="44.6"/><rect x="595.72" y="693.2" width="1.40" height="44.4"/><rect x="597.20" y="693.4" width="1.60" height="44.2"/><rect x="598.68" y="693.6" width="1.48" height="44.0"/><rect x="600.16" y="693.8" width="1.40" height="43.8"/><rect x="601.65" y="694.0" width="1.48" height="43.6"/><rect x="603.13" y="693.2" width="1.48" height="44.4"/><rect x="604.61" y="693.4" width="1.88" height="44.2"/><rect x="606.09" y="693.6" width="1.48" height="44.0"/><rect x="607.57" y="693.6" width="1.48" height="44.0"/><rect x="609.06" y="693.5" width="1.40" height="44.1"/><rect x="610.54" y="693.5" width="1.48" height="44.1"/><rect x="612.02" y="692.5" width="1.60" height="45.1"/><rect x="613.50" y="692.4" width="1.40" height="45.2"/><rect x="614.98" y="692.4" width="1.88" height="45.2"/><rect x="616.47" y="692.3" width="1.48" height="45.3"/><rect x="617.95" y="692.3" width="1.40" height="45.3"/><rect x="619.43" y="692.2" width="1.60" height="45.4"/><rect x="620.91" y="692.1" width="1.48" height="45.5"/><rect x="622.39" y="691.2" width="1.40" height="46.4"/><rect x="623.88" y="675.8" width="1.48" height="61.8"/><rect x="625.36" y="675.9" width="1.88" height="61.7"/><rect x="626.84" y="676.1" width="1.60" height="61.5"/><rect x="628.32" y="676.2" width="1.48" height="61.4"/><rect x="629.80" y="676.3" width="1.48" height="61.3"/><rect x="631.29" y="675.6" width="1.40" height="62.0"/><rect x="632.77" y="689.7" width="1.48" height="47.9"/><rect x="634.25" y="689.7" width="1.60" height="47.9"/><rect x="635.73" y="689.8" width="1.88" height="47.8"/><rect x="637.21" y="689.8" width="1.48" height="47.8"/><rect x="638.70" y="689.8" width="1.48" height="47.8"/><rect x="640.18" y="689.9" width="1.40" height="47.7"/><rect x="641.66" y="689.0" width="1.60" height="48.6"/><rect x="643.14" y="689.0" width="1.48" height="48.6"/><rect x="644.62" y="689.1" width="1.40" height="48.5"/><rect x="646.11" y="689.1" width="1.88" height="48.5"/><rect x="647.59" y="689.2" width="1.48" height="48.4"/><rect x="649.07" y="689.2" width="1.60" height="48.4"/><rect x="650.55" y="688.3" width="1.48" height="49.3"/><rect x="652.03" y="688.4" width="1.48" height="49.2"/><rect x="653.52" y="688.4" width="1.40" height="49.2"/><rect x="655.00" y="687.9" width="1.48" height="49.7"/><rect x="656.48" y="686.8" width="1.88" height="50.8"/><rect x="657.96" y="686.3" width="1.40" height="51.3"/><rect x="659.44" y="686.3" width="1.48" height="51.3"/><rect x="660.93" y="685.5" width="1.48" height="52.1"/><rect x="662.41" y="685.6" width="1.40" height="52.0"/><rect x="663.89" y="685.7" width="1.60" height="51.9"/><rect x="665.37" y="685.8" width="1.48" height="51.8"/><rect x="666.85" y="685.9" width="1.88" height="51.7"/><rect x="668.34" y="686.0" width="1.48" height="51.6"/><rect x="669.82" y="685.2" width="1.48" height="52.4"/><rect x="671.30" y="685.3" width="1.60" height="52.3"/><rect x="672.78" y="684.7" width="1.48" height="52.9"/><rect x="674.26" y="682.9" width="1.48" height="54.7"/><rect x="675.75" y="681.7" width="1.40" height="55.9"/><rect x="677.23" y="681.6" width="1.88" height="56.0"/><rect x="678.71" y="681.5" width="1.60" height="56.1"/><rect x="680.19" y="680.5" width="1.40" height="57.1"/><rect x="681.67" y="680.4" width="1.48" height="57.2"/><rect x="683.16" y="680.3" width="1.48" height="57.3"/><rect x="684.64" y="680.3" width="1.40" height="57.3"/><rect x="686.12" y="680.2" width="1.60" height="57.4"/><rect x="687.60" y="680.1" width="1.88" height="57.5"/><rect x="689.08" y="679.1" width="1.40" height="58.5"/><rect x="690.57" y="679.0" width="1.48" height="58.6"/><rect x="692.05" y="678.9" width="1.48" height="58.7"/><rect x="693.53" y="678.9" width="1.60" height="58.7"/><rect x="695.01" y="678.8" width="1.48" height="58.8"/><rect x="696.49" y="678.7" width="1.48" height="58.9"/><rect x="697.98" y="678.6" width="1.88" height="59.0"/><rect x="699.46" y="677.5" width="1.48" height="60.1"/><rect x="700.94" y="676.4" width="1.60" height="61.2"/><rect x="702.42" y="675.3" width="1.40" height="62.3"/><rect x="703.90" y="674.2" width="1.48" height="63.4"/><rect x="705.39" y="673.1" width="1.48" height="64.5"/><rect x="706.87" y="672.0" width="1.40" height="65.6"/><rect x="708.35" y="670.1" width="1.88" height="67.5"/><rect x="709.83" y="670.0" width="1.48" height="67.6"/><rect x="711.31" y="669.9" width="1.40" height="67.7"/><rect x="712.80" y="669.9" width="1.48" height="67.7"/><rect x="714.28" y="669.8" width="1.48" height="67.8"/><rect x="715.76" y="669.7" width="1.60" height="67.9"/><rect x="717.24" y="669.6" width="1.48" height="68.0"/><rect x="718.72" y="668.7" width="1.88" height="68.9"/><rect x="720.21" y="668.6" width="1.40" height="69.0"/><rect x="721.69" y="668.5" width="1.48" height="69.1"/><rect x="723.17" y="668.4" width="1.60" height="69.2"/><rect x="724.65" y="668.4" width="1.40" height="69.2"/><rect x="726.13" y="668.3" width="1.48" height="69.3"/><rect x="727.62" y="667.3" width="1.48" height="70.3"/><rect x="729.10" y="667.2" width="1.88" height="70.4"/><rect x="730.58" y="666.9" width="1.60" height="70.7"/><rect x="732.06" y="666.6" width="1.48" height="71.0"/><rect x="733.54" y="666.2" width="1.40" height="71.4"/><rect x="735.03" y="665.9" width="1.48" height="71.7"/><rect x="736.51" y="665.5" width="1.48" height="72.1"/><rect x="737.99" y="664.2" width="1.60" height="73.4"/><rect x="739.47" y="664.4" width="1.88" height="73.2"/><rect x="740.95" y="664.6" width="1.48" height="73.0"/><rect x="742.44" y="664.8" width="1.40" height="72.8"/><rect x="743.92" y="665.0" width="1.48" height="72.6"/><rect x="745.40" y="665.2" width="1.60" height="72.4"/><rect x="746.88" y="664.5" width="1.40" height="73.1"/><rect x="748.36" y="664.8" width="1.48" height="72.8"/><rect x="749.85" y="665.0" width="1.88" height="72.6"/><rect x="751.33" y="665.2" width="1.40" height="72.4"/><rect x="752.81" y="665.4" width="1.60" height="72.2"/><rect x="754.29" y="665.6" width="1.48" height="72.0"/><rect x="755.77" y="643.6" width="1.40" height="94.0"/><rect x="757.26" y="643.3" width="1.48" height="94.3"/><rect x="758.74" y="643.9" width="1.48" height="93.7"/><rect x="760.22" y="644.4" width="1.88" height="93.2"/><rect x="761.70" y="645.9" width="1.48" height="91.7"/><rect x="763.18" y="647.4" width="1.48" height="90.2"/><rect x="764.67" y="648.9" width="1.40" height="88.7"/><rect x="766.15" y="649.5" width="1.48" height="88.1"/><rect x="767.63" y="650.9" width="1.60" height="86.7"/><rect x="769.11" y="651.5" width="1.40" height="86.1"/><rect x="770.59" y="652.0" width="1.88" height="85.6"/><rect x="772.08" y="652.6" width="1.48" height="85.0"/><rect x="773.56" y="653.1" width="1.40" height="84.5"/><rect x="775.04" y="653.5" width="1.60" height="84.1"/><rect x="776.52" y="652.9" width="1.48" height="84.7"/><rect x="778.00" y="653.2" width="1.40" height="84.4"/><rect x="779.49" y="653.5" width="1.48" height="84.1"/><rect x="780.97" y="653.8" width="1.88" height="83.8"/><rect x="782.45" y="654.2" width="1.60" height="83.4"/><rect x="783.93" y="654.5" width="1.48" height="83.1"/><rect x="785.41" y="653.9" width="1.48" height="83.7"/><rect x="786.90" y="654.2" width="1.40" height="83.4"/><rect x="788.38" y="655.3" width="1.48" height="82.3"/><rect x="789.86" y="656.8" width="1.60" height="80.8"/><rect x="791.34" y="658.2" width="1.88" height="79.4"/><rect x="792.82" y="659.6" width="1.48" height="78.0"/><rect x="794.31" y="679.9" width="1.48" height="57.7"/><rect x="795.79" y="679.1" width="1.40" height="58.5"/><rect x="797.27" y="679.2" width="1.60" height="58.4"/><rect x="798.75" y="679.3" width="1.48" height="58.3"/><rect x="800.23" y="679.5" width="1.40" height="58.1"/><rect x="801.72" y="679.9" width="1.88" height="57.7"/><rect x="803.20" y="680.3" width="1.48" height="57.3"/><rect x="804.68" y="679.8" width="1.60" height="57.8"/><rect x="806.16" y="680.2" width="1.48" height="57.4"/><rect x="807.64" y="670.9" width="1.48" height="66.7"/><rect x="809.13" y="660.4" width="1.40" height="77.2"/><rect x="810.61" y="660.7" width="1.48" height="76.9"/><rect x="812.09" y="661.0" width="1.88" height="76.6"/><rect x="813.57" y="661.3" width="1.40" height="76.3"/><rect x="815.05" y="660.7" width="1.48" height="76.9"/><rect x="816.54" y="661.0" width="1.48" height="76.6"/><rect x="818.02" y="661.3" width="1.40" height="76.3"/><rect x="819.50" y="661.6" width="1.60" height="76.0"/><rect x="820.98" y="661.7" width="1.48" height="75.9"/><rect x="822.46" y="661.9" width="1.88" height="75.7"/><rect x="823.95" y="661.2" width="1.48" height="76.4"/><rect x="825.43" y="661.3" width="1.48" height="76.3"/><rect x="826.91" y="661.5" width="1.60" height="76.1"/><rect x="828.39" y="661.6" width="1.48" height="76.0"/><rect x="829.87" y="661.8" width="1.48" height="75.8"/><rect x="831.36" y="662.0" width="1.40" height="75.6"/><rect x="832.84" y="662.1" width="1.88" height="75.5"/><rect x="834.32" y="661.8" width="1.60" height="75.8"/><rect x="835.80" y="662.3" width="1.40" height="75.3"/><rect x="837.28" y="662.9" width="1.48" height="74.7"/><rect x="838.77" y="663.5" width="1.48" height="74.1"/><rect x="840.25" y="664.0" width="1.40" height="73.6"/><rect x="841.73" y="664.6" width="1.60" height="73.0"/><rect x="843.21" y="664.3" width="1.88" height="73.3"/><rect x="844.69" y="664.9" width="1.40" height="72.7"/><rect x="846.18" y="665.5" width="1.48" height="72.1"/><rect x="847.66" y="666.1" width="1.48" height="71.5"/><rect x="849.14" y="666.8" width="1.60" height="70.8"/><rect x="850.62" y="667.4" width="1.48" height="70.2"/><rect x="852.10" y="668.0" width="1.48" height="69.6"/><rect x="853.59" y="667.8" width="1.88" height="69.8"/><rect x="855.07" y="668.4" width="1.48" height="69.2"/><rect x="856.55" y="669.0" width="1.60" height="68.6"/><rect x="858.03" y="669.5" width="1.40" height="68.1"/><rect x="859.51" y="670.1" width="1.48" height="67.5"/><rect x="861.00" y="670.6" width="1.48" height="67.0"/><rect x="862.48" y="670.2" width="1.40" height="67.4"/><rect x="863.96" y="670.8" width="1.88" height="66.8"/><rect x="865.44" y="671.3" width="1.48" height="66.3"/><rect x="866.92" y="671.9" width="1.40" height="65.7"/><rect x="868.41" y="672.4" width="1.48" height="65.2"/><rect x="869.89" y="689.1" width="1.48" height="48.5"/><rect x="871.37" y="689.4" width="1.60" height="48.2"/><rect x="872.85" y="688.8" width="1.48" height="48.8"/><rect x="874.33" y="689.2" width="1.88" height="48.4"/><rect x="875.82" y="689.5" width="1.40" height="48.1"/><rect x="877.30" y="689.8" width="1.48" height="47.8"/><rect x="878.78" y="690.1" width="1.60" height="47.5"/><rect x="880.26" y="690.4" width="1.40" height="47.2"/><rect x="881.74" y="689.8" width="1.48" height="47.8"/><rect x="883.23" y="690.1" width="1.48" height="47.5"/><rect x="884.71" y="674.2" width="1.88" height="63.4"/><rect x="886.19" y="674.7" width="1.60" height="62.9"/><rect x="887.67" y="675.1" width="1.48" height="62.5"/><rect x="889.15" y="675.6" width="1.40" height="62.0"/><rect x="890.64" y="676.1" width="1.48" height="61.5"/><rect x="892.12" y="675.7" width="1.48" height="61.9"/><rect x="893.60" y="676.1" width="1.60" height="61.5"/><rect x="895.08" y="676.5" width="1.88" height="61.1"/><rect x="896.56" y="676.7" width="1.48" height="60.9"/><rect x="898.05" y="676.9" width="1.40" height="60.7"/><rect x="899.53" y="677.1" width="1.48" height="60.5"/><rect x="901.01" y="676.4" width="1.60" height="61.2"/><rect x="902.49" y="676.6" width="1.40" height="61.0"/><rect x="903.97" y="676.8" width="1.48" height="60.8"/><rect x="905.46" y="677.2" width="1.88" height="60.4"/><rect x="906.94" y="677.5" width="1.40" height="60.1"/><rect x="908.42" y="677.9" width="1.60" height="59.7"/><rect x="909.90" y="678.3" width="1.48" height="59.3"/><rect x="911.38" y="677.7" width="1.40" height="59.9"/><rect x="912.87" y="678.1" width="1.48" height="59.5"/><rect x="914.35" y="678.4" width="1.48" height="59.2"/><rect x="915.83" y="678.6" width="1.88" height="59.0"/><rect x="917.31" y="678.9" width="1.48" height="58.7"/><rect x="918.79" y="679.1" width="1.48" height="58.5"/><rect x="920.28" y="678.4" width="1.40" height="59.2"/><rect x="921.76" y="678.6" width="1.48" height="59.0"/><rect x="923.24" y="678.8" width="1.60" height="58.8"/><rect x="924.72" y="679.5" width="1.40" height="58.1"/><rect x="926.20" y="681.1" width="1.88" height="56.5"/><rect x="927.69" y="682.3" width="1.48" height="55.3"/><rect x="929.17" y="682.4" width="1.40" height="55.2"/><rect x="930.65" y="681.7" width="1.60" height="55.9"/><rect x="932.13" y="681.8" width="1.48" height="55.8"/><rect x="933.61" y="697.7" width="1.40" height="39.9"/><rect x="935.10" y="698.7" width="1.48" height="38.9"/><rect x="936.58" y="699.8" width="1.88" height="37.8"/><rect x="938.06" y="700.5" width="1.60" height="37.1"/><rect x="939.54" y="699.9" width="1.48" height="37.7"/><rect x="941.02" y="700.3" width="1.48" height="37.3"/><rect x="942.51" y="700.6" width="1.40" height="37.0"/><rect x="943.99" y="701.0" width="1.48" height="36.6"/><rect x="945.47" y="701.4" width="1.60" height="36.2"/><rect x="946.95" y="701.7" width="1.88" height="35.9"/><rect x="948.43" y="702.1" width="1.48" height="35.5"/><rect x="949.92" y="701.5" width="1.48" height="36.1"/><rect x="951.40" y="701.7" width="1.40" height="35.9"/><rect x="952.88" y="701.9" width="1.60" height="35.7"/><rect x="954.36" y="702.2" width="1.48" height="35.4"/><rect x="955.84" y="702.4" width="1.40" height="35.2"/><rect x="957.33" y="702.6" width="1.88" height="35.0"/><rect x="958.81" y="701.9" width="1.48" height="35.7"/><rect x="960.29" y="702.2" width="1.60" height="35.4"/><rect x="961.77" y="702.6" width="1.48" height="35.0"/><rect x="963.25" y="703.1" width="1.48" height="34.5"/><rect x="964.74" y="703.6" width="1.40" height="34.0"/><rect x="966.22" y="704.0" width="1.48" height="33.6"/><rect x="967.70" y="704.5" width="1.88" height="33.1"/><rect x="969.18" y="704.0" width="1.40" height="33.6"/><rect x="970.66" y="704.5" width="1.48" height="33.1"/><rect x="972.15" y="705.0" width="1.48" height="32.6"/><rect x="973.63" y="705.4" width="1.40" height="32.2"/><rect x="975.11" y="705.9" width="1.60" height="31.7"/><rect x="976.59" y="706.3" width="1.48" height="31.3"/><rect x="978.07" y="705.8" width="1.88" height="31.8"/><rect x="979.56" y="706.2" width="1.48" height="31.4"/><rect x="981.04" y="706.5" width="1.48" height="31.1"/><rect x="982.52" y="706.9" width="1.60" height="30.7"/><rect x="984.00" y="707.3" width="1.48" height="30.3"/><rect x="985.48" y="707.7" width="1.48" height="29.9"/><rect x="986.97" y="708.1" width="1.40" height="29.5"/><rect x="988.45" y="707.6" width="1.88" height="30.0"/><rect x="989.93" y="708.0" width="1.60" height="29.6"/><rect x="991.41" y="708.4" width="1.40" height="29.2"/><rect x="992.89" y="708.8" width="1.48" height="28.8"/><rect x="994.38" y="709.2" width="1.48" height="28.4"/><rect x="995.86" y="709.6" width="1.40" height="28.0"/><rect x="997.34" y="709.4" width="1.60" height="28.2"/><rect x="998.82" y="710.1" width="1.88" height="27.5"/><rect x="1000.30" y="710.8" width="1.40" height="26.8"/><rect x="1001.79" y="711.5" width="1.48" height="26.1"/><rect x="1003.27" y="712.3" width="1.48" height="25.3"/><rect x="1004.75" y="712.9" width="1.60" height="24.7"/><rect x="1006.23" y="713.3" width="1.48" height="24.3"/><rect x="1007.71" y="712.9" width="1.48" height="24.7"/><rect x="1009.20" y="713.3" width="1.88" height="24.3"/><rect x="1010.68" y="713.8" width="1.48" height="23.8"/><rect x="1012.16" y="714.2" width="1.60" height="23.4"/><rect x="1013.64" y="714.4" width="1.40" height="23.2"/><rect x="1015.12" y="714.5" width="1.48" height="23.1"/><rect x="1016.61" y="713.8" width="1.48" height="23.8"/><rect x="1018.09" y="713.9" width="1.40" height="23.7"/><rect x="1019.57" y="714.1" width="1.88" height="23.5"/><rect x="1021.05" y="714.2" width="1.48" height="23.4"/><rect x="1022.53" y="706.8" width="1.40" height="30.8"/><rect x="1024.02" y="707.2" width="1.48" height="30.4"/><rect x="1025.50" y="707.5" width="1.48" height="30.1"/><rect x="1026.98" y="706.9" width="1.60" height="30.7"/><rect x="1028.46" y="707.2" width="1.48" height="30.4"/><rect x="1029.94" y="707.5" width="1.88" height="30.1"/><rect x="1031.43" y="707.7" width="1.40" height="29.9"/><rect x="1032.91" y="707.9" width="1.48" height="29.7"/><rect x="1034.39" y="708.1" width="1.60" height="29.5"/><rect x="1035.87" y="707.5" width="1.40" height="30.1"/><rect x="1037.35" y="707.7" width="1.48" height="29.9"/><rect x="1038.84" y="707.9" width="1.48" height="29.7"/><rect x="1040.32" y="708.2" width="1.88" height="29.4"/><rect x="1041.80" y="708.4" width="1.60" height="29.2"/><rect x="1043.28" y="720.0" width="1.48" height="17.6"/><rect x="1044.76" y="720.1" width="1.40" height="17.5"/><rect x="1046.25" y="719.4" width="1.48" height="18.2"/><rect x="1047.73" y="719.5" width="1.48" height="18.1"/><rect x="1049.21" y="715.7" width="1.60" height="21.9"/><rect x="1050.69" y="715.6" width="1.88" height="22.0"/><rect x="1052.17" y="715.4" width="1.48" height="22.2"/><rect x="1053.66" y="715.3" width="1.40" height="22.3"/><rect x="1055.14" y="714.3" width="1.48" height="23.3"/><rect x="1056.62" y="714.2" width="1.60" height="23.4"/><rect x="1058.10" y="714.1" width="1.40" height="23.5"/><rect x="1059.58" y="713.9" width="1.48" height="23.7"/><rect x="1061.07" y="713.8" width="1.88" height="23.8"/><rect x="1062.55" y="713.6" width="1.40" height="24.0"/><rect x="1064.03" y="713.4" width="1.60" height="24.2"/><rect x="1065.51" y="712.3" width="1.48" height="25.3"/><rect x="1066.99" y="712.2" width="1.40" height="25.4"/><rect x="1068.48" y="712.2" width="1.48" height="25.4"/><rect x="1069.96" y="712.5" width="1.48" height="25.1"/><rect x="1071.44" y="712.8" width="1.88" height="24.8"/><rect x="1072.92" y="713.1" width="1.48" height="24.5"/><rect x="1074.40" y="712.5" width="1.48" height="25.1"/><rect x="1075.89" y="712.8" width="1.40" height="24.8"/><rect x="1077.37" y="713.1" width="1.48" height="24.5"/><rect x="1078.85" y="713.5" width="1.60" height="24.1"/><rect x="1080.33" y="713.6" width="1.40" height="24.0"/><rect x="1081.81" y="713.6" width="1.88" height="24.0"/><rect x="1083.30" y="713.7" width="1.48" height="23.9"/><rect x="1084.78" y="712.9" width="1.40" height="24.7"/><rect x="1086.26" y="712.9" width="1.60" height="24.7"/><rect x="1087.74" y="713.0" width="1.48" height="24.6"/><rect x="1089.22" y="713.0" width="1.40" height="24.6"/><rect x="1090.71" y="713.1" width="1.48" height="24.5"/><rect x="1092.19" y="713.2" width="1.88" height="24.4"/><rect x="1093.67" y="712.3" width="1.60" height="25.3"/><rect x="1095.15" y="712.5" width="1.48" height="25.1"/><rect x="1096.63" y="712.7" width="1.48" height="24.9"/><rect x="1098.12" y="712.8" width="1.40" height="24.8"/><rect x="1099.60" y="713.0" width="1.48" height="24.6"/><rect x="1101.08" y="713.2" width="1.60" height="24.4"/><rect x="1102.56" y="713.4" width="1.88" height="24.2"/><rect x="1104.04" y="712.7" width="1.48" height="24.9"/><rect x="1105.53" y="712.9" width="1.48" height="24.7"/><rect x="1107.01" y="713.1" width="1.40" height="24.5"/><rect x="1108.49" y="723.1" width="1.60" height="14.5"/><rect x="1109.97" y="723.2" width="1.48" height="14.4"/><rect x="1111.45" y="723.3" width="1.40" height="14.3"/><rect x="1112.94" y="722.6" width="1.88" height="15.0"/><rect x="1114.42" y="722.7" width="1.48" height="14.9"/><rect x="1115.90" y="722.9" width="1.60" height="14.7"/><rect x="1116" y="736.6" width="37" height="1"/></g>
<rect x="593.6" y="752.5" width="139" height="45.9" fill="rgba(255,255,255,0.68)" stroke="rgba(0,0,0,0.66)" stroke-width="1"/>
<text x="662.1" y="778.0" text-anchor="middle" class="t b">Sub 10 min food</text>
<rect x="747.6" y="752.5" width="139" height="45.9" fill="rgba(255,255,255,0.68)" stroke="rgba(0,0,0,0.66)" stroke-width="1"/>
<text x="816.1" y="778.0" text-anchor="middle" class="t b">Add 10 min food</text>
<rect x="901.6" y="752.5" width="139" height="45.9" fill="rgba(255,255,255,0.68)" stroke="rgba(0,0,0,0.66)" stroke-width="1"/>
<text x="970.1" y="778.0" text-anchor="middle" class="t b">Spawn 10 ants</text>
<rect x="1055.7" y="752.5" width="139" height="45.9" fill="rgba(255,255,255,0.68)" stroke="rgba(0,0,0,0.66)" stroke-width="1"/>
<text x="1124.2" y="778.0" text-anchor="middle" class="t b">Pause simulation</text>
<rect x="1210.6" y="752.5" width="139" height="45.9" fill="rgba(255,255,255,0.68)" stroke="rgba(0,0,0,0.66)" stroke-width="1"/>
<text x="1279.1" y="778.0" text-anchor="middle" class="t b">Reset simulation</text>
<text x="1163.4" y="19.80" text-anchor="end" class="t">FPS: 60</text>
<text x="1163.4" y="31.36" text-anchor="end" class="t">FPSr: 218.82</text>
<text x="1163.4" y="42.92" text-anchor="end" class="t">Ants: 38</text>
<text x="1163.4" y="54.48" text-anchor="end" class="t">Food: 61</text>
<text x="1163.4" y="66.04" text-anchor="end" class="t">Time: 238</text>
<text x="1163.4" y="77.60" text-anchor="end" class="t">Min food: 60</text>
<text x="1163.4" y="89.16" text-anchor="end" class="t">Highest gen: 12</text>
<text x="1163.4" y="100.72" text-anchor="end" class="t">Highest hp: 196.86</text>
<text x="1163.4" y="112.28" text-anchor="end" class="t">Highest children: 9</text>
<text x="1163.4" y="123.84" text-anchor="end" class="t">Highest fitness: 145.06</text>
</svg>
</body></html>
